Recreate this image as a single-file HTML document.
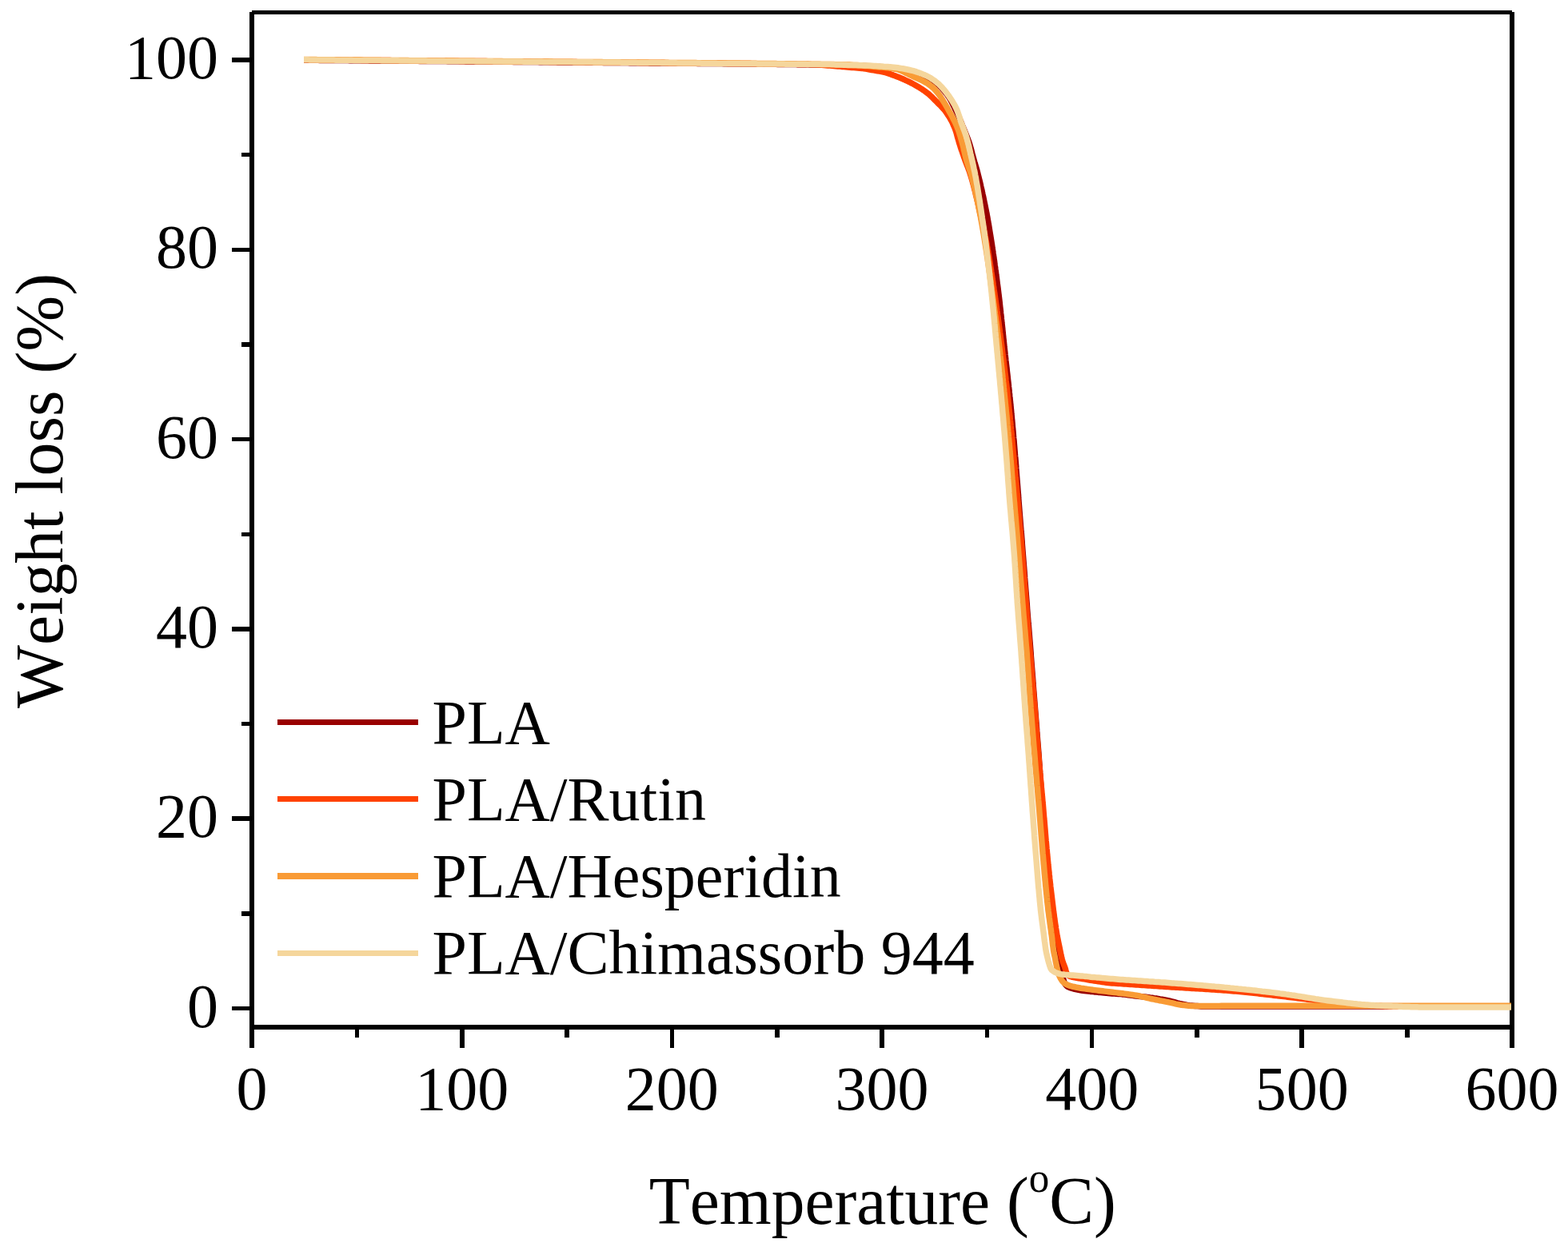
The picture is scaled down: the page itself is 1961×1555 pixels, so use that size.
<!DOCTYPE html>
<html lang="en"><head><meta charset="utf-8"><title>TGA curves: PLA weight loss vs temperature</title>
<style>html,body{margin:0;padding:0;background:#fff;}body{width:1961px;height:1555px;overflow:hidden;}svg{display:block;}text{font-family:"Liberation Serif","DejaVu Serif",serif;fill:#000;font-kerning:none;}</style>
</head><body>
<svg width="1961" height="1555" viewBox="0 0 1961 1555">
<rect width="1961" height="1555" fill="#fff"/>
<g id="axes" shape-rendering="crispEdges">
<rect x="312" y="15" width="6" height="1296" fill="#000"/>
<rect x="1888" y="15" width="6" height="1296" fill="#000"/>
<rect x="315" y="13" width="1576" height="5" fill="#000"/>
<rect x="312" y="1282" width="1582" height="6" fill="#000"/>
<rect x="444" y="1285" width="5" height="13" fill="#000"/>
<rect x="575" y="1285" width="6" height="26" fill="#000"/>
<rect x="706" y="1285" width="6" height="13" fill="#000"/>
<rect x="838" y="1285" width="5" height="26" fill="#000"/>
<rect x="969" y="1285" width="6" height="13" fill="#000"/>
<rect x="1100" y="1285" width="6" height="26" fill="#000"/>
<rect x="1232" y="1285" width="5" height="13" fill="#000"/>
<rect x="1363" y="1285" width="5" height="26" fill="#000"/>
<rect x="1494" y="1285" width="6" height="13" fill="#000"/>
<rect x="1625" y="1285" width="6" height="26" fill="#000"/>
<rect x="1757" y="1285" width="6" height="13" fill="#000"/>
<rect x="290" y="72" width="25" height="6" fill="#000"/>
<rect x="302" y="191" width="13" height="5" fill="#000"/>
<rect x="290" y="310" width="25" height="5" fill="#000"/>
<rect x="302" y="428" width="13" height="6" fill="#000"/>
<rect x="290" y="547" width="25" height="5" fill="#000"/>
<rect x="302" y="666" width="13" height="5" fill="#000"/>
<rect x="290" y="784" width="25" height="6" fill="#000"/>
<rect x="302" y="903" width="13" height="5" fill="#000"/>
<rect x="290" y="1021" width="25" height="6" fill="#000"/>
<rect x="302" y="1140" width="13" height="6" fill="#000"/>
<rect x="290" y="1259" width="25" height="5" fill="#000"/>
</g>
<g id="xticklabels" font-size="78" text-anchor="middle">
<text x="315.00" y="1387.5">0</text>
<text x="577.67" y="1387.5">100</text>
<text x="840.33" y="1387.5">200</text>
<text x="1103.00" y="1387.5">300</text>
<text x="1365.67" y="1387.5">400</text>
<text x="1628.33" y="1387.5">500</text>
<text x="1891.00" y="1387.5">600</text>
</g>
<g id="yticklabels" font-size="78" text-anchor="end">
<text x="273" y="98.00">100</text>
<text x="273" y="335.30">80</text>
<text x="273" y="572.60">60</text>
<text x="273" y="809.90">40</text>
<text x="273" y="1047.20">20</text>
<text x="273" y="1284.50">0</text>
</g>
<text id="xtitle" transform="translate(1103.8 1531) scale(0.982 1)" font-size="85" text-anchor="middle">Temperature (<tspan font-size="52" dy="-40.5">o</tspan><tspan dy="40.5">C)</tspan></text>
<text id="ytitle" transform="translate(77.5 614) rotate(-90) scale(0.985 1)" font-size="85" text-anchor="middle">Weight loss (%)</text>
<defs><clipPath id="plot"><rect x="315" y="15" width="1575" height="1270"/></clipPath></defs>
<g id="curves" clip-path="url(#plot)" fill="none" stroke-width="7.5" stroke-linejoin="round" stroke-linecap="butt">
<path d="M380.0 75.2 L382.5 75.2 L385.0 75.2 L387.5 75.3 L390.0 75.3 L392.5 75.3 L395.0 75.3 L397.5 75.3 L400.0 75.4 L402.5 75.4 L405.0 75.4 L407.5 75.4 L410.0 75.4 L412.5 75.5 L415.0 75.5 L417.5 75.5 L420.0 75.5 L422.5 75.5 L425.0 75.6 L427.5 75.6 L430.0 75.6 L432.5 75.6 L435.0 75.6 L437.5 75.7 L440.0 75.7 L442.5 75.7 L445.0 75.7 L447.5 75.7 L450.0 75.8 L452.5 75.8 L455.0 75.8 L457.5 75.8 L460.0 75.8 L462.5 75.9 L465.0 75.9 L467.5 75.9 L470.0 75.9 L472.5 75.9 L475.0 76.0 L477.5 76.0 L480.0 76.0 L482.5 76.0 L485.0 76.0 L487.5 76.1 L490.0 76.1 L492.5 76.1 L495.0 76.1 L497.5 76.1 L500.0 76.2 L502.5 76.2 L505.0 76.2 L507.6 76.2 L510.1 76.2 L512.6 76.3 L515.1 76.3 L517.6 76.3 L520.1 76.3 L522.6 76.3 L525.1 76.4 L527.6 76.4 L530.1 76.4 L532.6 76.4 L535.1 76.5 L537.6 76.5 L540.1 76.5 L542.6 76.5 L545.1 76.5 L547.6 76.6 L550.1 76.6 L552.6 76.6 L555.1 76.6 L557.6 76.6 L560.1 76.7 L562.6 76.7 L565.1 76.7 L567.6 76.7 L570.1 76.7 L572.6 76.8 L575.1 76.8 L577.6 76.8 L580.1 76.8 L582.6 76.9 L585.1 76.9 L587.6 76.9 L590.1 76.9 L592.6 76.9 L595.1 77.0 L597.6 77.0 L600.1 77.0 L602.6 77.0 L605.1 77.0 L607.6 77.1 L610.1 77.1 L612.6 77.1 L615.1 77.1 L617.6 77.2 L620.1 77.2 L622.6 77.2 L625.1 77.2 L627.6 77.2 L630.1 77.3 L632.6 77.3 L635.1 77.3 L637.6 77.3 L640.1 77.3 L642.6 77.4 L645.1 77.4 L647.6 77.4 L650.1 77.4 L652.6 77.5 L655.1 77.5 L657.6 77.5 L660.1 77.5 L662.6 77.5 L665.1 77.6 L667.6 77.6 L670.1 77.6 L672.6 77.6 L675.1 77.7 L677.6 77.7 L680.1 77.7 L682.6 77.7 L685.1 77.7 L687.6 77.8 L690.1 77.8 L692.6 77.8 L695.1 77.8 L697.6 77.9 L700.1 77.9 L702.6 77.9 L705.1 77.9 L707.6 77.9 L710.1 78.0 L712.6 78.0 L715.1 78.0 L717.6 78.0 L720.1 78.1 L722.6 78.1 L725.1 78.1 L727.6 78.1 L730.1 78.1 L732.6 78.2 L735.1 78.2 L737.6 78.2 L740.1 78.2 L742.6 78.3 L745.1 78.3 L747.6 78.3 L750.1 78.3 L752.6 78.3 L755.1 78.4 L757.6 78.4 L760.1 78.4 L762.6 78.4 L765.2 78.5 L767.7 78.5 L770.2 78.5 L772.7 78.5 L775.2 78.5 L777.7 78.6 L780.2 78.6 L782.7 78.6 L785.2 78.6 L787.7 78.7 L790.2 78.7 L792.7 78.7 L795.2 78.7 L797.7 78.7 L800.2 78.8 L802.7 78.8 L805.2 78.8 L807.7 78.8 L810.2 78.8 L812.7 78.9 L815.2 78.9 L817.7 78.9 L820.2 78.9 L822.7 79.0 L825.2 79.0 L827.7 79.0 L830.2 79.0 L832.7 79.0 L835.2 79.1 L837.7 79.1 L840.2 79.1 L842.7 79.1 L845.2 79.1 L847.7 79.2 L850.2 79.2 L852.7 79.2 L855.2 79.2 L857.7 79.2 L860.2 79.3 L862.7 79.3 L865.2 79.3 L867.7 79.3 L870.2 79.3 L872.7 79.4 L875.2 79.4 L877.7 79.4 L880.2 79.4 L882.7 79.5 L885.2 79.5 L887.7 79.5 L890.2 79.5 L892.7 79.5 L895.2 79.6 L897.7 79.6 L900.2 79.6 L902.7 79.6 L905.2 79.7 L907.7 79.7 L910.2 79.7 L912.7 79.7 L915.2 79.8 L917.7 79.8 L920.2 79.8 L922.7 79.8 L925.2 79.8 L927.7 79.9 L930.2 79.9 L932.7 79.9 L935.2 79.9 L937.7 80.0 L940.2 80.0 L942.7 80.0 L945.2 80.1 L947.7 80.1 L950.2 80.1 L952.7 80.1 L955.2 80.2 L957.7 80.2 L960.2 80.2 L962.7 80.2 L965.2 80.3 L967.7 80.3 L970.2 80.3 L972.7 80.4 L975.2 80.4 L977.7 80.4 L980.2 80.4 L982.7 80.5 L985.2 80.5 L987.7 80.5 L990.2 80.6 L992.7 80.6 L995.2 80.6 L997.7 80.7 L1000.2 80.7 L1002.7 80.7 L1005.2 80.8 L1007.7 80.8 L1010.2 80.8 L1012.7 80.9 L1015.2 80.9 L1017.7 80.9 L1020.2 81.0 L1022.7 81.0 L1025.2 81.1 L1027.8 81.1 L1030.3 81.1 L1032.8 81.2 L1035.3 81.2 L1037.8 81.3 L1040.3 81.3 L1042.8 81.4 L1045.3 81.4 L1047.8 81.5 L1050.3 81.5 L1052.8 81.6 L1055.3 81.7 L1057.8 81.7 L1060.3 81.8 L1062.8 81.8 L1065.3 81.9 L1067.8 82.0 L1070.3 82.1 L1072.8 82.2 L1075.3 82.3 L1077.8 82.4 L1080.3 82.5 L1082.8 82.6 L1085.3 82.7 L1087.8 82.8 L1090.2 83.0 L1092.7 83.1 L1095.2 83.2 L1097.7 83.4 L1100.2 83.5 L1102.7 83.7 L1105.2 83.8 L1107.7 84.0 L1110.2 84.2 L1112.7 84.4 L1115.2 84.7 L1117.7 84.9 L1120.2 85.2 L1122.6 85.5 L1125.1 85.9 L1127.6 86.3 L1130.1 86.8 L1132.5 87.3 L1135.0 87.8 L1137.4 88.4 L1139.8 89.0 L1142.2 89.6 L1144.6 90.3 L1147.0 91.2 L1149.3 92.0 L1151.7 93.0 L1154.0 94.0 L1156.3 95.0 L1158.5 96.1 L1160.8 97.2 L1163.0 98.4 L1165.2 99.6 L1167.3 101.0 L1169.3 102.5 L1171.2 104.0 L1173.1 105.6 L1174.9 107.3 L1176.7 109.1 L1178.4 111.0 L1180.1 112.9 L1181.7 114.8 L1183.3 116.8 L1184.8 118.8 L1186.2 120.8 L1187.5 122.9 L1188.8 125.0 L1190.0 127.2 L1191.2 129.5 L1192.3 131.7 L1193.4 134.0 L1194.5 136.3 L1195.6 138.5 L1196.7 140.8 L1197.7 143.1 L1198.7 145.3 L1199.7 147.6 L1200.7 149.9 L1201.7 152.2 L1202.6 154.6 L1203.5 156.9 L1204.5 159.2 L1205.4 161.5 L1206.4 163.8 L1207.3 166.2 L1208.3 168.5 L1209.2 170.8 L1210.1 173.1 L1211.0 175.5 L1211.8 177.8 L1212.6 180.2 L1213.3 182.6 L1214.0 185.0 L1214.7 187.4 L1215.3 189.8 L1215.9 192.2 L1216.6 194.7 L1217.2 197.1 L1217.9 199.5 L1218.5 201.9 L1219.2 204.3 L1220.0 206.7 L1220.7 209.1 L1221.4 211.5 L1222.0 213.9 L1222.7 216.3 L1223.3 218.8 L1223.9 221.2 L1224.5 223.6 L1225.1 226.0 L1225.7 228.5 L1226.3 230.9 L1226.8 233.3 L1227.4 235.8 L1228.0 238.2 L1228.5 240.7 L1229.0 243.1 L1229.6 245.6 L1230.1 248.0 L1230.6 250.4 L1231.1 252.9 L1231.6 255.3 L1232.1 257.8 L1232.6 260.3 L1233.1 262.7 L1233.6 265.2 L1234.0 267.6 L1234.5 270.1 L1235.0 272.5 L1235.4 275.0 L1235.8 277.5 L1236.3 279.9 L1236.7 282.4 L1237.1 284.8 L1237.5 287.3 L1237.9 289.8 L1238.3 292.3 L1238.7 294.7 L1239.1 297.2 L1239.5 299.7 L1239.9 302.1 L1240.3 304.6 L1240.7 307.1 L1241.0 309.6 L1241.4 312.0 L1241.8 314.5 L1242.1 317.0 L1242.5 319.5 L1242.8 321.9 L1243.2 324.4 L1243.6 326.9 L1243.9 329.4 L1244.2 331.8 L1244.6 334.3 L1244.9 336.8 L1245.3 339.3 L1245.6 341.7 L1245.9 344.2 L1246.3 346.7 L1246.6 349.2 L1246.9 351.7 L1247.2 354.1 L1247.5 356.6 L1247.9 359.1 L1248.2 361.6 L1248.5 364.1 L1248.8 366.6 L1249.1 369.0 L1249.4 371.5 L1249.7 374.0 L1250.0 376.5 L1250.3 379.0 L1250.5 381.5 L1250.8 383.9 L1251.1 386.4 L1251.4 388.9 L1251.6 391.4 L1251.9 393.9 L1252.2 396.4 L1252.4 398.9 L1252.7 401.4 L1252.9 403.8 L1253.2 406.3 L1253.5 408.8 L1253.7 411.3 L1254.0 413.8 L1254.2 416.3 L1254.5 418.8 L1254.7 421.3 L1255.0 423.7 L1255.3 426.2 L1255.5 428.7 L1255.8 431.2 L1256.0 433.7 L1256.3 436.2 L1256.6 438.7 L1256.9 441.2 L1257.1 443.6 L1257.4 446.1 L1257.7 448.6 L1257.9 451.1 L1258.2 453.6 L1258.5 456.1 L1258.8 458.6 L1259.1 461.0 L1259.3 463.5 L1259.6 466.0 L1259.9 468.5 L1260.2 471.0 L1260.4 473.5 L1260.7 476.0 L1261.0 478.4 L1261.3 480.9 L1261.5 483.4 L1261.8 485.9 L1262.1 488.4 L1262.3 490.9 L1262.6 493.4 L1262.8 495.9 L1263.1 498.3 L1263.3 500.8 L1263.6 503.3 L1263.8 505.8 L1264.1 508.3 L1264.3 510.8 L1264.6 513.3 L1264.8 515.8 L1265.0 518.3 L1265.3 520.7 L1265.5 523.2 L1265.7 525.7 L1266.0 528.2 L1266.2 530.7 L1266.4 533.2 L1266.6 535.7 L1266.9 538.2 L1267.1 540.7 L1267.3 543.2 L1267.5 545.7 L1267.7 548.1 L1268.0 550.6 L1268.2 553.1 L1268.4 555.6 L1268.6 558.1 L1268.8 560.6 L1269.0 563.1 L1269.2 565.6 L1269.4 568.1 L1269.6 570.6 L1269.9 573.1 L1270.1 575.6 L1270.3 578.1 L1270.5 580.5 L1270.7 583.0 L1270.8 585.5 L1271.0 588.0 L1271.2 590.5 L1271.4 593.0 L1271.6 595.5 L1271.8 598.0 L1272.0 600.5 L1272.2 603.0 L1272.4 605.5 L1272.6 608.0 L1272.8 610.5 L1273.0 613.0 L1273.2 615.5 L1273.4 617.9 L1273.6 620.4 L1273.7 622.9 L1273.9 625.4 L1274.1 627.9 L1274.3 630.4 L1274.5 632.9 L1274.7 635.4 L1274.9 637.9 L1275.1 640.4 L1275.3 642.9 L1275.5 645.4 L1275.7 647.9 L1275.9 650.4 L1276.1 652.9 L1276.3 655.3 L1276.5 657.8 L1276.7 660.3 L1276.9 662.8 L1277.1 665.3 L1277.4 667.8 L1277.6 670.3 L1277.8 672.8 L1278.0 675.3 L1278.2 677.8 L1278.3 680.3 L1278.5 682.8 L1278.7 685.3 L1278.9 687.8 L1279.1 690.2 L1279.3 692.7 L1279.5 695.2 L1279.7 697.7 L1279.9 700.2 L1280.1 702.7 L1280.3 705.2 L1280.5 707.7 L1280.7 710.2 L1280.9 712.7 L1281.1 715.2 L1281.3 717.7 L1281.5 720.2 L1281.6 722.7 L1281.8 725.2 L1282.0 727.7 L1282.2 730.1 L1282.4 732.6 L1282.6 735.1 L1282.8 737.6 L1283.0 740.1 L1283.2 742.6 L1283.4 745.1 L1283.6 747.6 L1283.8 750.1 L1284.0 752.6 L1284.2 755.1 L1284.4 757.6 L1284.5 760.1 L1284.7 762.6 L1284.9 765.1 L1285.1 767.5 L1285.3 770.0 L1285.5 772.5 L1285.7 775.0 L1285.9 777.5 L1286.1 780.0 L1286.4 782.5 L1286.6 785.0 L1286.8 787.5 L1287.0 790.0 L1287.2 792.5 L1287.4 795.0 L1287.6 797.5 L1287.8 800.0 L1288.0 802.4 L1288.2 804.9 L1288.4 807.4 L1288.6 809.9 L1288.8 812.4 L1289.0 814.9 L1289.2 817.4 L1289.3 819.9 L1289.5 822.4 L1289.7 824.9 L1289.9 827.4 L1290.1 829.9 L1290.3 832.4 L1290.5 834.9 L1290.7 837.4 L1290.9 839.8 L1291.1 842.3 L1291.3 844.8 L1291.5 847.3 L1291.7 849.8 L1291.9 852.3 L1292.0 854.8 L1292.2 857.3 L1292.4 859.8 L1292.6 862.3 L1292.8 864.8 L1293.0 867.3 L1293.2 869.8 L1293.4 872.3 L1293.6 874.8 L1293.8 877.3 L1294.0 879.7 L1294.2 882.2 L1294.4 884.7 L1294.6 887.2 L1294.8 889.7 L1295.0 892.2 L1295.2 894.7 L1295.4 897.2 L1295.6 899.7 L1295.8 902.2 L1296.0 904.7 L1296.2 907.2 L1296.4 909.7 L1296.6 912.2 L1296.7 914.7 L1296.9 917.1 L1297.1 919.6 L1297.3 922.1 L1297.5 924.6 L1297.7 927.1 L1297.9 929.6 L1298.1 932.1 L1298.3 934.6 L1298.5 937.1 L1298.7 939.6 L1298.9 942.1 L1299.1 944.6 L1299.3 947.1 L1299.4 949.6 L1299.6 952.1 L1299.8 954.6 L1300.0 957.0 L1300.1 959.5 L1300.3 962.0 L1300.5 964.5 L1300.6 967.0 L1300.8 969.5 L1301.0 972.0 L1301.2 974.5 L1301.3 977.0 L1301.5 979.5 L1301.7 982.0 L1301.8 984.5 L1302.0 987.0 L1302.2 989.5 L1302.3 992.0 L1302.5 994.5 L1302.7 997.0 L1302.9 999.5 L1303.0 1002.0 L1303.2 1004.5 L1303.4 1007.0 L1303.6 1009.4 L1303.8 1011.9 L1303.9 1014.4 L1304.1 1016.9 L1304.3 1019.4 L1304.5 1021.9 L1304.7 1024.4 L1304.9 1026.9 L1305.1 1029.4 L1305.3 1031.9 L1305.5 1034.4 L1305.6 1036.9 L1305.8 1039.4 L1306.0 1041.9 L1306.2 1044.4 L1306.4 1046.9 L1306.6 1049.3 L1306.8 1051.8 L1307.0 1054.3 L1307.2 1056.8 L1307.4 1059.3 L1307.6 1061.8 L1307.8 1064.3 L1308.1 1066.8 L1308.3 1069.3 L1308.5 1071.8 L1308.7 1074.3 L1308.9 1076.8 L1309.1 1079.3 L1309.3 1081.8 L1309.5 1084.2 L1309.8 1086.7 L1310.0 1089.2 L1310.2 1091.7 L1310.4 1094.2 L1310.6 1096.7 L1310.8 1099.2 L1311.1 1101.7 L1311.3 1104.2 L1311.5 1106.7 L1311.8 1109.2 L1312.0 1111.7 L1312.2 1114.1 L1312.5 1116.6 L1312.7 1119.1 L1313.0 1121.6 L1313.2 1124.1 L1313.5 1126.6 L1313.8 1129.1 L1314.1 1131.6 L1314.3 1134.0 L1314.6 1136.5 L1314.9 1139.0 L1315.3 1141.5 L1315.6 1144.0 L1315.9 1146.4 L1316.3 1148.9 L1316.7 1151.4 L1317.0 1153.9 L1317.4 1156.3 L1317.8 1158.8 L1318.2 1161.3 L1318.5 1163.7 L1318.9 1166.2 L1319.3 1168.7 L1319.7 1171.2 L1320.0 1173.6 L1320.4 1176.1 L1320.8 1178.6 L1321.2 1181.1 L1321.5 1183.5 L1321.9 1186.0 L1322.3 1188.5 L1322.7 1191.0 L1323.1 1193.4 L1323.5 1195.9 L1324.0 1198.3 L1324.4 1200.8 L1324.9 1203.2 L1325.5 1205.7 L1326.0 1208.1 L1326.6 1210.6 L1327.1 1213.0 L1327.6 1215.5 L1328.1 1217.9 L1328.6 1220.4 L1329.2 1222.8 L1329.9 1225.3 L1330.6 1227.7 L1331.5 1230.0 L1332.8 1232.1 L1334.6 1233.9 L1336.7 1235.1 L1339.1 1236.0 L1341.5 1236.7 L1343.9 1237.3 L1346.4 1237.8 L1348.8 1238.3 L1351.3 1238.8 L1353.8 1239.2 L1356.2 1239.5 L1358.7 1239.8 L1361.2 1240.1 L1363.7 1240.4 L1366.2 1240.6 L1368.7 1240.9 L1371.2 1241.1 L1373.7 1241.4 L1376.2 1241.6 L1378.6 1241.8 L1381.1 1242.1 L1383.6 1242.3 L1386.1 1242.5 L1388.6 1242.7 L1391.1 1242.9 L1393.6 1243.0 L1396.1 1243.2 L1398.6 1243.4 L1401.1 1243.6 L1403.6 1243.9 L1406.1 1244.1 L1408.5 1244.4 L1411.0 1244.8 L1413.5 1245.1 L1416.0 1245.4 L1418.5 1245.7 L1420.9 1246.0 L1423.4 1246.3 L1425.9 1246.6 L1428.4 1246.8 L1430.9 1247.1 L1433.4 1247.3 L1435.9 1247.6 L1438.3 1248.0 L1440.8 1248.3 L1443.3 1248.7 L1445.8 1249.0 L1448.2 1249.4 L1450.7 1249.9 L1453.2 1250.3 L1455.6 1250.7 L1458.1 1251.2 L1460.5 1251.7 L1463.0 1252.2 L1465.4 1252.8 L1467.8 1253.4 L1470.3 1254.1 L1472.7 1254.8 L1475.1 1255.4 L1477.5 1255.9 L1480.0 1256.4 L1482.4 1256.9 L1484.9 1257.4 L1487.4 1257.8 L1489.9 1258.1 L1492.3 1258.3 L1494.8 1258.5 L1497.3 1258.6 L1499.8 1258.7 L1502.3 1258.9 L1504.8 1258.9 L1507.3 1259.0 L1509.8 1259.0 L1512.3 1259.0 L1514.8 1259.0 L1517.3 1259.0 L1519.8 1259.0 L1522.3 1259.0 L1524.8 1259.0 L1527.3 1259.0 L1529.8 1259.0 L1532.3 1259.0 L1534.8 1259.0 L1537.3 1259.0 L1539.8 1259.0 L1542.3 1259.0 L1544.8 1259.0 L1547.3 1259.0 L1549.8 1259.0 L1552.3 1259.0 L1554.8 1259.0 L1557.3 1259.0 L1559.8 1259.0 L1562.3 1259.0 L1564.8 1259.0 L1567.3 1259.0 L1569.8 1259.0 L1572.3 1259.0 L1574.8 1259.0 L1577.3 1259.0 L1579.8 1259.0 L1582.3 1259.0 L1584.8 1259.0 L1587.3 1259.0 L1589.8 1259.0 L1592.3 1259.0 L1594.8 1259.0 L1597.3 1259.0 L1599.8 1259.0 L1602.3 1259.0 L1604.8 1259.0 L1607.3 1259.0 L1609.8 1259.0 L1612.3 1259.0 L1614.8 1259.0 L1617.3 1259.0 L1619.8 1259.0 L1622.3 1259.0 L1624.8 1259.0 L1627.3 1259.0 L1629.8 1259.0 L1632.3 1259.0 L1634.8 1259.0 L1637.3 1259.0 L1639.8 1259.0 L1642.3 1259.0 L1644.8 1259.0 L1647.3 1259.0 L1649.8 1259.0 L1652.3 1259.0 L1654.8 1259.0 L1657.3 1259.0 L1659.8 1259.0 L1662.3 1259.0 L1664.8 1259.0 L1667.3 1259.0 L1669.9 1259.0 L1672.4 1259.0 L1674.9 1259.0 L1677.4 1259.0 L1679.9 1259.0 L1682.4 1259.0 L1684.9 1259.0 L1687.4 1259.0 L1689.9 1259.0 L1692.4 1259.0 L1694.9 1259.0 L1697.4 1259.0 L1699.9 1259.0 L1702.4 1259.0 L1704.9 1259.0 L1707.4 1259.0 L1709.9 1259.0 L1712.4 1259.0 L1714.9 1259.0 L1717.4 1259.0 L1719.9 1259.0 L1722.4 1259.0 L1724.9 1259.0 L1727.4 1259.0 L1729.9 1259.0 L1732.4 1259.0 L1734.9 1259.0 L1737.4 1259.0 L1739.9 1259.0 L1742.4 1259.0 L1744.9 1259.0 L1747.4 1259.0 L1749.9 1259.0 L1752.4 1259.0 L1754.9 1258.9 L1757.4 1258.9 L1759.9 1258.9 L1762.4 1258.9 L1764.9 1258.9 L1767.4 1258.9 L1769.9 1258.9 L1772.4 1258.9 L1774.9 1258.9 L1777.4 1258.9 L1779.9 1258.9 L1782.4 1258.9 L1784.9 1258.9 L1787.4 1258.9 L1789.9 1258.9 L1792.4 1258.9 L1794.9 1258.9 L1797.4 1258.9 L1799.9 1258.9 L1802.4 1258.9 L1804.9 1258.9 L1807.4 1258.9 L1809.9 1258.9 L1812.4 1258.9 L1814.9 1258.9 L1817.4 1258.9 L1819.9 1258.9 L1822.4 1258.9 L1824.9 1258.9 L1827.4 1258.9 L1829.9 1258.9 L1832.4 1258.9 L1834.9 1258.9 L1837.4 1258.9 L1839.9 1258.9 L1842.4 1258.9 L1844.9 1258.9 L1847.5 1258.9 L1850.0 1258.9 L1852.5 1258.9 L1855.0 1258.9 L1857.5 1258.9 L1860.0 1258.8 L1862.5 1258.8 L1865.0 1258.8 L1867.5 1258.8 L1870.0 1258.8 L1872.5 1258.8 L1875.0 1258.8 L1877.5 1258.8 L1880.0 1258.8 L1882.5 1258.8 L1885.0 1258.8 L1887.5 1258.8 L1890.0 1258.8 L1892.5 1258.8 L1895.0 1258.8" stroke="#990000"/>
<path d="M380.0 74.8 L382.5 74.8 L385.0 74.8 L387.5 74.9 L390.0 74.9 L392.5 74.9 L395.0 74.9 L397.5 74.9 L400.0 75.0 L402.5 75.0 L405.0 75.0 L407.5 75.0 L410.0 75.0 L412.5 75.0 L415.0 75.1 L417.5 75.1 L420.0 75.1 L422.5 75.1 L425.0 75.1 L427.5 75.2 L430.0 75.2 L432.5 75.2 L435.0 75.2 L437.5 75.2 L440.0 75.3 L442.5 75.3 L445.0 75.3 L447.5 75.3 L450.0 75.3 L452.5 75.4 L455.1 75.4 L457.6 75.4 L460.1 75.4 L462.6 75.4 L465.1 75.5 L467.6 75.5 L470.1 75.5 L472.6 75.5 L475.1 75.5 L477.6 75.6 L480.1 75.6 L482.6 75.6 L485.1 75.6 L487.6 75.6 L490.1 75.7 L492.6 75.7 L495.1 75.7 L497.6 75.7 L500.1 75.7 L502.6 75.8 L505.1 75.8 L507.6 75.8 L510.1 75.8 L512.6 75.8 L515.1 75.9 L517.6 75.9 L520.1 75.9 L522.6 75.9 L525.1 75.9 L527.6 76.0 L530.1 76.0 L532.6 76.0 L535.1 76.0 L537.6 76.1 L540.1 76.1 L542.6 76.1 L545.1 76.1 L547.6 76.1 L550.1 76.2 L552.6 76.2 L555.1 76.2 L557.6 76.2 L560.1 76.2 L562.6 76.3 L565.1 76.3 L567.6 76.3 L570.1 76.3 L572.6 76.3 L575.1 76.4 L577.6 76.4 L580.1 76.4 L582.6 76.4 L585.1 76.5 L587.6 76.5 L590.1 76.5 L592.6 76.5 L595.1 76.5 L597.6 76.6 L600.1 76.6 L602.7 76.6 L605.2 76.6 L607.7 76.6 L610.2 76.7 L612.7 76.7 L615.2 76.7 L617.7 76.7 L620.2 76.8 L622.7 76.8 L625.2 76.8 L627.7 76.8 L630.2 76.8 L632.7 76.9 L635.2 76.9 L637.7 76.9 L640.2 76.9 L642.7 77.0 L645.2 77.0 L647.7 77.0 L650.2 77.0 L652.7 77.0 L655.2 77.1 L657.7 77.1 L660.2 77.1 L662.7 77.1 L665.2 77.2 L667.7 77.2 L670.2 77.2 L672.7 77.2 L675.2 77.2 L677.7 77.3 L680.2 77.3 L682.7 77.3 L685.2 77.3 L687.7 77.4 L690.2 77.4 L692.7 77.4 L695.2 77.4 L697.7 77.4 L700.2 77.5 L702.7 77.5 L705.2 77.5 L707.7 77.5 L710.2 77.6 L712.7 77.6 L715.2 77.6 L717.7 77.6 L720.2 77.6 L722.7 77.7 L725.2 77.7 L727.7 77.7 L730.2 77.7 L732.7 77.8 L735.2 77.8 L737.7 77.8 L740.2 77.8 L742.7 77.8 L745.2 77.9 L747.7 77.9 L750.2 77.9 L752.8 77.9 L755.3 78.0 L757.8 78.0 L760.3 78.0 L762.8 78.0 L765.3 78.1 L767.8 78.1 L770.3 78.1 L772.8 78.1 L775.3 78.1 L777.8 78.2 L780.3 78.2 L782.8 78.2 L785.3 78.2 L787.8 78.3 L790.3 78.3 L792.8 78.3 L795.3 78.3 L797.8 78.3 L800.3 78.4 L802.8 78.4 L805.3 78.4 L807.8 78.4 L810.3 78.5 L812.8 78.5 L815.3 78.5 L817.8 78.5 L820.3 78.5 L822.8 78.6 L825.3 78.6 L827.8 78.6 L830.3 78.6 L832.8 78.7 L835.3 78.7 L837.8 78.7 L840.3 78.7 L842.8 78.7 L845.3 78.8 L847.8 78.8 L850.3 78.8 L852.8 78.8 L855.3 78.9 L857.8 78.9 L860.3 78.9 L862.8 78.9 L865.3 78.9 L867.8 79.0 L870.3 79.0 L872.8 79.0 L875.3 79.0 L877.8 79.1 L880.3 79.1 L882.8 79.1 L885.3 79.1 L887.8 79.1 L890.3 79.2 L892.8 79.2 L895.3 79.2 L897.8 79.2 L900.3 79.3 L902.9 79.3 L905.4 79.3 L907.9 79.3 L910.4 79.4 L912.9 79.4 L915.4 79.4 L917.9 79.4 L920.4 79.5 L922.9 79.5 L925.4 79.5 L927.9 79.5 L930.4 79.6 L932.9 79.6 L935.4 79.6 L937.9 79.6 L940.4 79.7 L942.9 79.7 L945.4 79.7 L947.9 79.8 L950.4 79.8 L952.9 79.8 L955.4 79.8 L957.9 79.9 L960.4 79.9 L962.9 79.9 L965.4 80.0 L967.9 80.0 L970.4 80.0 L972.9 80.0 L975.4 80.1 L977.9 80.1 L980.4 80.1 L982.9 80.2 L985.4 80.2 L987.9 80.2 L990.4 80.3 L992.9 80.3 L995.4 80.3 L997.9 80.4 L1000.4 80.4 L1002.9 80.4 L1005.4 80.5 L1007.9 80.5 L1010.4 80.6 L1012.9 80.6 L1015.4 80.7 L1017.9 80.7 L1020.4 80.8 L1022.9 81.0 L1025.4 81.1 L1027.9 81.3 L1030.4 81.5 L1032.9 81.7 L1035.4 81.9 L1037.9 82.1 L1040.4 82.3 L1042.9 82.5 L1045.4 82.7 L1047.9 82.9 L1050.4 83.1 L1052.8 83.4 L1055.3 83.6 L1057.8 83.8 L1060.3 84.0 L1062.8 84.2 L1065.3 84.4 L1067.8 84.6 L1070.3 84.8 L1072.8 85.0 L1075.3 85.2 L1077.8 85.4 L1080.3 85.7 L1082.7 86.1 L1085.2 86.5 L1087.7 87.0 L1090.1 87.5 L1092.6 87.9 L1095.0 88.3 L1097.5 88.7 L1100.0 89.1 L1102.5 89.6 L1104.9 90.1 L1107.3 90.7 L1109.7 91.4 L1112.1 92.2 L1114.5 93.1 L1116.8 93.9 L1119.2 94.8 L1121.5 95.7 L1123.8 96.6 L1126.1 97.5 L1128.5 98.5 L1130.8 99.5 L1133.0 100.6 L1135.3 101.6 L1137.5 102.7 L1139.8 103.9 L1142.0 105.0 L1144.2 106.2 L1146.4 107.5 L1148.5 108.7 L1150.7 110.1 L1152.8 111.4 L1154.9 112.8 L1156.9 114.2 L1158.9 115.7 L1160.9 117.2 L1162.8 118.8 L1164.6 120.6 L1166.4 122.3 L1168.2 124.1 L1169.9 125.9 L1171.7 127.7 L1173.5 129.5 L1175.3 131.2 L1177.1 133.0 L1178.8 134.9 L1180.4 136.7 L1182.0 138.6 L1183.4 140.6 L1184.8 142.7 L1186.2 144.8 L1187.5 146.9 L1188.8 149.1 L1190.0 151.3 L1191.2 153.6 L1192.2 155.9 L1193.2 158.1 L1194.2 160.4 L1195.0 162.8 L1195.8 165.1 L1196.5 167.5 L1197.1 169.9 L1197.8 172.4 L1198.5 174.8 L1199.2 177.2 L1199.9 179.6 L1200.7 182.0 L1201.4 184.4 L1202.2 186.8 L1203.1 189.1 L1203.9 191.5 L1204.7 193.8 L1205.5 196.2 L1206.4 198.6 L1207.2 200.9 L1208.1 203.3 L1209.0 205.6 L1209.9 207.9 L1210.8 210.3 L1211.7 212.6 L1212.6 215.0 L1213.3 217.3 L1214.1 219.7 L1214.8 222.1 L1215.5 224.5 L1216.2 226.9 L1216.8 229.3 L1217.5 231.7 L1218.1 234.1 L1218.7 236.6 L1219.4 239.0 L1220.0 241.4 L1220.5 243.9 L1221.1 246.3 L1221.7 248.7 L1222.3 251.2 L1222.9 253.6 L1223.4 256.1 L1224.0 258.5 L1224.5 260.9 L1225.1 263.4 L1225.6 265.8 L1226.2 268.3 L1226.8 270.7 L1227.3 273.1 L1227.8 275.6 L1228.4 278.0 L1228.9 280.5 L1229.5 282.9 L1230.0 285.4 L1230.5 287.8 L1231.0 290.3 L1231.5 292.7 L1232.0 295.2 L1232.5 297.6 L1233.0 300.1 L1233.5 302.5 L1234.0 305.0 L1234.4 307.4 L1234.9 309.9 L1235.3 312.4 L1235.8 314.8 L1236.2 317.3 L1236.6 319.7 L1237.0 322.2 L1237.4 324.7 L1237.8 327.1 L1238.2 329.6 L1238.6 332.1 L1239.0 334.6 L1239.4 337.0 L1239.7 339.5 L1240.1 342.0 L1240.5 344.5 L1240.9 346.9 L1241.2 349.4 L1241.6 351.9 L1242.0 354.4 L1242.3 356.8 L1242.7 359.3 L1243.0 361.8 L1243.4 364.3 L1243.7 366.7 L1244.1 369.2 L1244.5 371.7 L1244.8 374.2 L1245.2 376.7 L1245.5 379.1 L1245.9 381.6 L1246.2 384.1 L1246.6 386.6 L1246.9 389.0 L1247.3 391.5 L1247.6 394.0 L1248.0 396.5 L1248.3 399.0 L1248.6 401.4 L1249.0 403.9 L1249.3 406.4 L1249.6 408.9 L1250.0 411.3 L1250.3 413.8 L1250.6 416.3 L1251.0 418.8 L1251.3 421.3 L1251.6 423.8 L1251.9 426.2 L1252.2 428.7 L1252.6 431.2 L1252.9 433.7 L1253.2 436.2 L1253.5 438.6 L1253.8 441.1 L1254.1 443.6 L1254.4 446.1 L1254.7 448.6 L1255.1 451.1 L1255.4 453.5 L1255.7 456.0 L1256.0 458.5 L1256.3 461.0 L1256.6 463.5 L1256.9 466.0 L1257.2 468.4 L1257.5 470.9 L1257.8 473.4 L1258.0 475.9 L1258.3 478.4 L1258.6 480.9 L1258.9 483.3 L1259.2 485.8 L1259.5 488.3 L1259.7 490.8 L1260.0 493.3 L1260.3 495.8 L1260.6 498.3 L1260.8 500.8 L1261.1 503.2 L1261.4 505.7 L1261.6 508.2 L1261.9 510.7 L1262.1 513.2 L1262.4 515.7 L1262.7 518.2 L1262.9 520.7 L1263.2 523.1 L1263.4 525.6 L1263.7 528.1 L1263.9 530.6 L1264.1 533.1 L1264.4 535.6 L1264.6 538.1 L1264.9 540.6 L1265.1 543.1 L1265.3 545.6 L1265.6 548.0 L1265.8 550.5 L1266.1 553.0 L1266.3 555.5 L1266.5 558.0 L1266.8 560.5 L1267.0 563.0 L1267.2 565.5 L1267.5 568.0 L1267.7 570.5 L1267.9 573.0 L1268.2 575.4 L1268.4 577.9 L1268.6 580.4 L1268.9 582.9 L1269.1 585.4 L1269.3 587.9 L1269.6 590.4 L1269.8 592.9 L1270.0 595.4 L1270.3 597.9 L1270.5 600.4 L1270.7 602.8 L1270.9 605.3 L1271.2 607.8 L1271.4 610.3 L1271.6 612.8 L1271.8 615.3 L1272.0 617.8 L1272.3 620.3 L1272.5 622.8 L1272.7 625.3 L1272.9 627.8 L1273.2 630.3 L1273.4 632.8 L1273.6 635.2 L1273.8 637.7 L1274.0 640.2 L1274.2 642.7 L1274.5 645.2 L1274.7 647.7 L1274.9 650.2 L1275.1 652.7 L1275.3 655.2 L1275.5 657.7 L1275.7 660.2 L1275.9 662.7 L1276.2 665.2 L1276.4 667.6 L1276.6 670.1 L1276.8 672.6 L1277.0 675.1 L1277.2 677.6 L1277.4 680.1 L1277.6 682.6 L1277.8 685.1 L1278.0 687.6 L1278.2 690.1 L1278.4 692.6 L1278.6 695.1 L1278.8 697.6 L1279.0 700.1 L1279.2 702.6 L1279.4 705.0 L1279.6 707.5 L1279.8 710.0 L1280.0 712.5 L1280.2 715.0 L1280.4 717.5 L1280.6 720.0 L1280.8 722.5 L1281.0 725.0 L1281.2 727.5 L1281.4 730.0 L1281.6 732.5 L1281.8 735.0 L1282.0 737.5 L1282.2 740.0 L1282.4 742.5 L1282.6 745.0 L1282.8 747.5 L1282.9 749.9 L1283.1 752.4 L1283.3 754.9 L1283.5 757.4 L1283.7 759.9 L1283.9 762.4 L1284.1 764.9 L1284.3 767.4 L1284.5 769.9 L1284.7 772.4 L1284.9 774.9 L1285.1 777.4 L1285.3 779.9 L1285.5 782.4 L1285.7 784.9 L1285.9 787.4 L1286.1 789.8 L1286.3 792.3 L1286.5 794.8 L1286.7 797.3 L1286.9 799.8 L1287.1 802.3 L1287.3 804.8 L1287.5 807.3 L1287.7 809.8 L1287.9 812.3 L1288.1 814.8 L1288.3 817.3 L1288.5 819.8 L1288.8 822.3 L1289.0 824.8 L1289.2 827.2 L1289.4 829.7 L1289.6 832.2 L1289.8 834.7 L1290.0 837.2 L1290.2 839.7 L1290.4 842.2 L1290.6 844.7 L1290.8 847.2 L1291.0 849.7 L1291.3 852.2 L1291.5 854.7 L1291.7 857.2 L1291.9 859.7 L1292.1 862.2 L1292.3 864.6 L1292.5 867.1 L1292.7 869.6 L1292.9 872.1 L1293.1 874.6 L1293.3 877.1 L1293.6 879.6 L1293.8 882.1 L1294.0 884.6 L1294.2 887.1 L1294.4 889.6 L1294.6 892.1 L1294.8 894.6 L1295.0 897.1 L1295.2 899.6 L1295.4 902.0 L1295.5 904.5 L1295.7 907.0 L1295.9 909.5 L1296.1 912.0 L1296.3 914.5 L1296.5 917.0 L1296.7 919.5 L1296.9 922.0 L1297.1 924.5 L1297.3 927.0 L1297.5 929.5 L1297.7 932.0 L1297.9 934.5 L1298.1 937.0 L1298.3 939.5 L1298.5 941.9 L1298.8 944.4 L1299.0 946.9 L1299.2 949.4 L1299.4 951.9 L1299.6 954.4 L1299.8 956.9 L1300.1 959.4 L1300.3 961.9 L1300.5 964.4 L1300.7 966.9 L1301.0 969.4 L1301.2 971.9 L1301.4 974.3 L1301.6 976.8 L1301.9 979.3 L1302.1 981.8 L1302.3 984.3 L1302.5 986.8 L1302.8 989.3 L1303.0 991.8 L1303.2 994.3 L1303.5 996.8 L1303.7 999.3 L1303.9 1001.7 L1304.1 1004.2 L1304.4 1006.7 L1304.6 1009.2 L1304.8 1011.7 L1305.0 1014.2 L1305.2 1016.7 L1305.4 1019.2 L1305.6 1021.7 L1305.8 1024.2 L1306.1 1026.7 L1306.3 1029.2 L1306.5 1031.7 L1306.7 1034.2 L1306.9 1036.6 L1307.1 1039.1 L1307.3 1041.6 L1307.5 1044.1 L1307.7 1046.6 L1307.9 1049.1 L1308.1 1051.6 L1308.4 1054.1 L1308.6 1056.6 L1308.8 1059.1 L1309.0 1061.6 L1309.3 1064.1 L1309.5 1066.6 L1309.7 1069.0 L1310.0 1071.5 L1310.2 1074.0 L1310.4 1076.5 L1310.7 1079.0 L1310.9 1081.5 L1311.2 1084.0 L1311.4 1086.5 L1311.7 1089.0 L1312.0 1091.5 L1312.2 1093.9 L1312.5 1096.4 L1312.7 1098.9 L1313.0 1101.4 L1313.3 1103.9 L1313.6 1106.4 L1313.8 1108.9 L1314.1 1111.4 L1314.4 1113.8 L1314.7 1116.3 L1315.0 1118.8 L1315.3 1121.3 L1315.6 1123.8 L1315.9 1126.3 L1316.2 1128.7 L1316.5 1131.2 L1316.8 1133.7 L1317.1 1136.2 L1317.4 1138.7 L1317.7 1141.2 L1318.1 1143.6 L1318.4 1146.1 L1318.7 1148.6 L1319.1 1151.1 L1319.4 1153.6 L1319.8 1156.0 L1320.2 1158.5 L1320.5 1161.0 L1320.9 1163.4 L1321.3 1165.9 L1321.7 1168.4 L1322.1 1170.8 L1322.6 1173.3 L1323.1 1175.8 L1323.6 1178.2 L1324.1 1180.7 L1324.6 1183.1 L1325.1 1185.6 L1325.6 1188.0 L1326.1 1190.5 L1326.6 1192.9 L1327.1 1195.4 L1327.7 1197.8 L1328.3 1200.2 L1329.0 1202.6 L1329.8 1205.0 L1330.7 1207.3 L1331.6 1209.7 L1332.4 1212.1 L1333.0 1214.5 L1333.7 1216.9 L1334.9 1219.1 L1336.8 1220.7 L1339.1 1221.7 L1341.5 1222.4 L1343.9 1222.9 L1346.4 1223.3 L1348.9 1223.7 L1351.4 1224.1 L1353.8 1224.5 L1356.3 1224.9 L1358.8 1225.3 L1361.2 1225.8 L1363.7 1226.2 L1366.2 1226.6 L1368.6 1227.0 L1371.1 1227.4 L1373.6 1227.8 L1376.1 1228.1 L1378.5 1228.5 L1381.0 1228.9 L1383.5 1229.2 L1386.0 1229.5 L1388.5 1229.7 L1390.9 1230.0 L1393.4 1230.1 L1395.9 1230.3 L1398.4 1230.4 L1400.9 1230.6 L1403.4 1230.7 L1405.9 1230.9 L1408.4 1231.0 L1410.9 1231.2 L1413.4 1231.4 L1415.9 1231.5 L1418.4 1231.7 L1420.9 1231.9 L1423.4 1232.0 L1425.9 1232.2 L1428.4 1232.4 L1430.9 1232.5 L1433.4 1232.7 L1435.9 1232.9 L1438.4 1233.0 L1440.9 1233.2 L1443.4 1233.4 L1445.9 1233.6 L1448.4 1233.7 L1450.9 1233.9 L1453.4 1234.1 L1455.9 1234.2 L1458.4 1234.4 L1460.8 1234.6 L1463.3 1234.7 L1465.8 1234.9 L1468.3 1235.0 L1470.8 1235.2 L1473.3 1235.3 L1475.8 1235.5 L1478.3 1235.6 L1480.8 1235.8 L1483.3 1235.9 L1485.8 1236.1 L1488.3 1236.2 L1490.8 1236.4 L1493.3 1236.5 L1495.8 1236.7 L1498.3 1236.8 L1500.8 1237.0 L1503.3 1237.1 L1505.8 1237.2 L1508.3 1237.4 L1510.8 1237.6 L1513.3 1237.7 L1515.8 1237.9 L1518.3 1238.0 L1520.8 1238.2 L1523.3 1238.4 L1525.8 1238.5 L1528.3 1238.7 L1530.8 1238.9 L1533.3 1239.1 L1535.8 1239.3 L1538.2 1239.5 L1540.7 1239.7 L1543.2 1239.9 L1545.7 1240.1 L1548.2 1240.3 L1550.7 1240.5 L1553.2 1240.8 L1555.7 1241.0 L1558.2 1241.3 L1560.7 1241.5 L1563.1 1241.8 L1565.6 1242.1 L1568.1 1242.3 L1570.6 1242.6 L1573.1 1242.9 L1575.6 1243.2 L1578.1 1243.4 L1580.6 1243.7 L1583.0 1244.0 L1585.5 1244.3 L1588.0 1244.6 L1590.5 1244.9 L1593.0 1245.2 L1595.5 1245.4 L1598.0 1245.7 L1600.4 1246.0 L1602.9 1246.3 L1605.4 1246.6 L1607.9 1246.9 L1610.4 1247.2 L1612.9 1247.5 L1615.4 1247.8 L1617.8 1248.1 L1620.3 1248.4 L1622.8 1248.7 L1625.3 1249.0 L1627.8 1249.3 L1630.3 1249.6 L1632.7 1249.9 L1635.2 1250.2 L1637.7 1250.5 L1640.2 1250.8 L1642.7 1251.0 L1645.2 1251.3 L1647.7 1251.6 L1650.1 1251.9 L1652.6 1252.2 L1655.1 1252.4 L1657.6 1252.7 L1660.1 1253.0 L1662.6 1253.2 L1665.1 1253.5 L1667.5 1253.8 L1670.0 1254.0 L1672.5 1254.3 L1675.0 1254.5 L1677.5 1254.8 L1680.0 1255.0 L1682.5 1255.2 L1685.0 1255.5 L1687.5 1255.7 L1690.0 1256.0 L1692.5 1256.2 L1694.9 1256.4 L1697.4 1256.7 L1699.9 1256.9 L1702.4 1257.1 L1704.9 1257.4 L1707.4 1257.6 L1709.9 1257.7 L1712.4 1257.9 L1714.9 1258.1 L1717.4 1258.2 L1719.9 1258.3 L1722.4 1258.4 L1724.9 1258.5 L1727.4 1258.6 L1729.9 1258.7 L1732.4 1258.8 L1734.9 1258.8 L1737.4 1258.9 L1739.9 1259.0 L1742.4 1259.1 L1744.9 1259.1 L1747.4 1259.2 L1749.9 1259.2 L1752.4 1259.3 L1754.9 1259.3 L1757.4 1259.3 L1759.9 1259.3 L1762.4 1259.3 L1764.9 1259.3 L1767.4 1259.3 L1769.9 1259.3 L1772.4 1259.3 L1774.9 1259.3 L1777.4 1259.3 L1779.9 1259.3 L1782.4 1259.3 L1784.9 1259.3 L1787.4 1259.3 L1789.9 1259.3 L1792.4 1259.3 L1794.9 1259.3 L1797.4 1259.3 L1799.9 1259.3 L1802.4 1259.3 L1804.9 1259.3 L1807.4 1259.3 L1809.9 1259.3 L1812.4 1259.3 L1814.9 1259.3 L1817.4 1259.3 L1819.9 1259.3 L1822.4 1259.3 L1824.9 1259.3 L1827.4 1259.3 L1829.9 1259.3 L1832.4 1259.3 L1835.0 1259.3 L1837.5 1259.3 L1840.0 1259.3 L1842.5 1259.3 L1845.0 1259.3 L1847.5 1259.3 L1850.0 1259.3 L1852.5 1259.3 L1855.0 1259.3 L1857.5 1259.3 L1860.0 1259.3 L1862.5 1259.3 L1865.0 1259.3 L1867.5 1259.3 L1870.0 1259.3 L1872.5 1259.3 L1875.0 1259.3 L1877.5 1259.3 L1880.0 1259.3 L1882.5 1259.3 L1885.0 1259.3 L1887.5 1259.3 L1890.0 1259.3 L1892.5 1259.3 L1895.0 1259.3" stroke="#FF4200"/>
<path d="M380.0 74.5 L382.5 74.5 L385.0 74.5 L387.5 74.6 L390.0 74.6 L392.5 74.6 L395.0 74.6 L397.5 74.7 L400.0 74.7 L402.5 74.7 L405.0 74.7 L407.5 74.7 L410.0 74.8 L412.5 74.8 L415.0 74.8 L417.5 74.8 L420.0 74.9 L422.5 74.9 L425.0 74.9 L427.5 74.9 L430.0 74.9 L432.5 75.0 L435.0 75.0 L437.5 75.0 L440.0 75.0 L442.5 75.1 L445.0 75.1 L447.5 75.1 L450.0 75.1 L452.5 75.1 L455.0 75.2 L457.5 75.2 L460.0 75.2 L462.5 75.2 L465.0 75.3 L467.5 75.3 L470.0 75.3 L472.5 75.3 L475.0 75.3 L477.5 75.4 L480.0 75.4 L482.5 75.4 L485.0 75.4 L487.5 75.4 L490.0 75.5 L492.5 75.5 L495.0 75.5 L497.5 75.5 L500.0 75.6 L502.5 75.6 L505.0 75.6 L507.5 75.6 L510.0 75.6 L512.5 75.7 L515.0 75.7 L517.5 75.7 L520.0 75.7 L522.5 75.8 L525.0 75.8 L527.5 75.8 L530.0 75.8 L532.5 75.8 L535.0 75.9 L537.5 75.9 L540.0 75.9 L542.5 75.9 L545.0 75.9 L547.5 76.0 L550.0 76.0 L552.5 76.0 L555.0 76.0 L557.5 76.1 L560.0 76.1 L562.5 76.1 L565.0 76.1 L567.5 76.1 L570.0 76.2 L572.5 76.2 L575.0 76.2 L577.5 76.2 L580.0 76.2 L582.5 76.3 L585.0 76.3 L587.5 76.3 L590.0 76.3 L592.5 76.3 L595.0 76.4 L597.5 76.4 L600.0 76.4 L602.5 76.4 L605.0 76.4 L607.5 76.5 L610.0 76.5 L612.5 76.5 L615.0 76.5 L617.5 76.6 L620.0 76.6 L622.5 76.6 L625.0 76.6 L627.5 76.6 L630.0 76.7 L632.5 76.7 L635.0 76.7 L637.5 76.7 L640.0 76.7 L642.5 76.8 L645.0 76.8 L647.5 76.8 L650.0 76.8 L652.5 76.8 L655.0 76.9 L657.5 76.9 L660.0 76.9 L662.5 76.9 L665.0 76.9 L667.5 77.0 L670.0 77.0 L672.5 77.0 L675.0 77.0 L677.5 77.0 L680.0 77.1 L682.5 77.1 L685.0 77.1 L687.5 77.1 L690.0 77.1 L692.5 77.2 L695.0 77.2 L697.5 77.2 L700.0 77.2 L702.5 77.2 L705.0 77.3 L707.5 77.3 L710.0 77.3 L712.5 77.3 L715.0 77.3 L717.5 77.4 L720.0 77.4 L722.5 77.4 L725.0 77.4 L727.5 77.4 L730.0 77.5 L732.5 77.5 L735.0 77.5 L737.5 77.5 L740.0 77.5 L742.5 77.6 L745.0 77.6 L747.5 77.6 L750.0 77.6 L752.5 77.6 L755.0 77.7 L757.5 77.7 L760.0 77.7 L762.5 77.7 L765.0 77.8 L767.5 77.8 L770.0 77.8 L772.5 77.8 L775.0 77.8 L777.5 77.9 L780.0 77.9 L782.5 77.9 L785.0 77.9 L787.5 78.0 L790.0 78.0 L792.5 78.0 L795.0 78.0 L797.5 78.0 L800.0 78.1 L802.5 78.1 L805.0 78.1 L807.5 78.1 L810.0 78.1 L812.5 78.2 L815.0 78.2 L817.5 78.2 L820.0 78.2 L822.5 78.2 L825.0 78.3 L827.5 78.3 L830.0 78.3 L832.5 78.3 L835.0 78.3 L837.5 78.4 L840.0 78.4 L842.5 78.4 L845.0 78.4 L847.5 78.5 L850.0 78.5 L852.5 78.5 L855.0 78.5 L857.5 78.5 L860.0 78.6 L862.5 78.6 L865.0 78.6 L867.5 78.6 L870.0 78.6 L872.5 78.7 L875.0 78.7 L877.5 78.7 L880.0 78.7 L882.5 78.8 L885.0 78.8 L887.5 78.8 L890.0 78.8 L892.5 78.8 L895.0 78.9 L897.5 78.9 L900.0 78.9 L902.5 78.9 L905.0 79.0 L907.5 79.0 L910.0 79.0 L912.5 79.0 L915.0 79.0 L917.5 79.1 L920.0 79.1 L922.5 79.1 L925.0 79.1 L927.5 79.2 L930.0 79.2 L932.5 79.2 L935.0 79.2 L937.5 79.3 L940.0 79.3 L942.5 79.3 L945.0 79.3 L947.5 79.4 L950.0 79.4 L952.5 79.4 L955.0 79.5 L957.5 79.5 L960.0 79.5 L962.5 79.5 L965.0 79.6 L967.5 79.6 L970.0 79.6 L972.5 79.7 L975.0 79.7 L977.5 79.7 L980.0 79.7 L982.5 79.8 L985.0 79.8 L987.5 79.8 L990.0 79.9 L992.5 79.9 L995.0 79.9 L997.5 80.0 L1000.0 80.0 L1002.5 80.0 L1005.0 80.1 L1007.5 80.1 L1010.0 80.1 L1012.5 80.2 L1015.0 80.2 L1017.5 80.2 L1020.0 80.3 L1022.5 80.3 L1025.0 80.3 L1027.5 80.4 L1030.0 80.4 L1032.5 80.5 L1035.0 80.5 L1037.5 80.5 L1040.0 80.6 L1042.5 80.6 L1045.0 80.7 L1047.5 80.7 L1050.0 80.8 L1052.5 80.9 L1055.0 80.9 L1057.5 81.0 L1060.0 81.1 L1062.5 81.1 L1065.0 81.2 L1067.5 81.4 L1070.0 81.5 L1072.5 81.6 L1075.0 81.8 L1077.5 82.0 L1080.0 82.2 L1082.5 82.4 L1085.0 82.6 L1087.5 82.8 L1089.9 83.0 L1092.4 83.2 L1094.9 83.5 L1097.4 83.7 L1099.9 83.9 L1102.4 84.1 L1105.0 84.3 L1107.5 84.5 L1110.0 84.8 L1112.5 85.1 L1114.9 85.4 L1117.4 85.8 L1119.8 86.2 L1122.2 86.7 L1124.5 87.4 L1126.8 88.3 L1129.1 89.3 L1131.4 90.4 L1133.7 91.6 L1136.0 92.7 L1138.2 93.9 L1140.5 94.9 L1142.8 96.0 L1145.1 97.0 L1147.4 98.0 L1149.7 99.0 L1152.0 100.1 L1154.2 101.2 L1156.4 102.4 L1158.6 103.6 L1160.6 104.9 L1162.7 106.4 L1164.7 107.9 L1166.6 109.6 L1168.4 111.3 L1170.1 113.1 L1171.7 115.0 L1173.2 116.9 L1174.7 118.8 L1176.2 120.9 L1177.5 123.0 L1178.9 125.1 L1180.2 127.3 L1181.5 129.4 L1182.8 131.6 L1184.1 133.8 L1185.3 136.0 L1186.5 138.2 L1187.7 140.4 L1189.0 142.6 L1190.2 144.8 L1191.4 147.0 L1192.5 149.2 L1193.7 151.5 L1194.8 153.7 L1195.8 156.0 L1196.8 158.3 L1197.7 160.6 L1198.6 162.9 L1199.4 165.3 L1200.1 167.7 L1200.9 170.0 L1201.6 172.5 L1202.3 174.9 L1203.0 177.3 L1203.6 179.7 L1204.3 182.1 L1204.9 184.5 L1205.4 187.0 L1206.0 189.4 L1206.6 191.9 L1207.1 194.3 L1207.7 196.7 L1208.4 199.1 L1209.0 201.5 L1209.8 203.9 L1210.6 206.3 L1211.4 208.7 L1212.2 211.0 L1213.0 213.4 L1213.8 215.8 L1214.5 218.2 L1215.1 220.6 L1215.8 223.0 L1216.4 225.4 L1217.0 227.8 L1217.6 230.3 L1218.2 232.7 L1218.8 235.1 L1219.3 237.6 L1219.9 240.0 L1220.4 242.4 L1221.0 244.9 L1221.5 247.3 L1222.0 249.8 L1222.5 252.2 L1223.1 254.7 L1223.6 257.1 L1224.0 259.6 L1224.5 262.0 L1225.0 264.5 L1225.5 266.9 L1226.0 269.4 L1226.5 271.8 L1226.9 274.3 L1227.4 276.8 L1227.8 279.2 L1228.3 281.7 L1228.7 284.1 L1229.1 286.6 L1229.6 289.1 L1230.0 291.5 L1230.4 294.0 L1230.8 296.5 L1231.2 298.9 L1231.6 301.4 L1232.0 303.9 L1232.4 306.3 L1232.8 308.8 L1233.2 311.3 L1233.6 313.8 L1234.0 316.2 L1234.3 318.7 L1234.7 321.2 L1235.1 323.6 L1235.4 326.1 L1235.8 328.6 L1236.1 331.1 L1236.5 333.5 L1236.8 336.0 L1237.2 338.5 L1237.5 341.0 L1237.9 343.4 L1238.2 345.9 L1238.5 348.4 L1238.9 350.9 L1239.2 353.4 L1239.5 355.8 L1239.9 358.3 L1240.2 360.8 L1240.5 363.3 L1240.9 365.7 L1241.2 368.2 L1241.5 370.7 L1241.9 373.2 L1242.2 375.7 L1242.5 378.1 L1242.9 380.6 L1243.2 383.1 L1243.5 385.6 L1243.9 388.1 L1244.2 390.5 L1244.5 393.0 L1244.9 395.5 L1245.2 398.0 L1245.5 400.4 L1245.8 402.9 L1246.2 405.4 L1246.5 407.9 L1246.8 410.4 L1247.1 412.8 L1247.4 415.3 L1247.8 417.8 L1248.1 420.3 L1248.4 422.8 L1248.7 425.2 L1249.0 427.7 L1249.3 430.2 L1249.6 432.7 L1249.9 435.2 L1250.2 437.7 L1250.5 440.1 L1250.8 442.6 L1251.0 445.1 L1251.3 447.6 L1251.6 450.1 L1251.9 452.6 L1252.1 455.0 L1252.4 457.5 L1252.7 460.0 L1253.0 462.5 L1253.2 465.0 L1253.5 467.5 L1253.8 470.0 L1254.0 472.4 L1254.3 474.9 L1254.5 477.4 L1254.8 479.9 L1255.1 482.4 L1255.3 484.9 L1255.6 487.4 L1255.8 489.9 L1256.1 492.3 L1256.3 494.8 L1256.6 497.3 L1256.8 499.8 L1257.1 502.3 L1257.3 504.8 L1257.6 507.3 L1257.8 509.8 L1258.1 512.2 L1258.3 514.7 L1258.6 517.2 L1258.8 519.7 L1259.1 522.2 L1259.3 524.7 L1259.6 527.2 L1259.8 529.7 L1260.0 532.1 L1260.3 534.6 L1260.5 537.1 L1260.7 539.6 L1261.0 542.1 L1261.2 544.6 L1261.4 547.1 L1261.7 549.6 L1261.9 552.1 L1262.1 554.5 L1262.4 557.0 L1262.6 559.5 L1262.8 562.0 L1263.0 564.5 L1263.3 567.0 L1263.5 569.5 L1263.7 572.0 L1263.9 574.5 L1264.1 577.0 L1264.4 579.5 L1264.6 581.9 L1264.8 584.4 L1265.0 586.9 L1265.2 589.4 L1265.4 591.9 L1265.6 594.4 L1265.8 596.9 L1266.0 599.4 L1266.3 601.9 L1266.5 604.4 L1266.7 606.9 L1266.9 609.3 L1267.1 611.8 L1267.3 614.3 L1267.5 616.8 L1267.7 619.3 L1267.9 621.8 L1268.1 624.3 L1268.3 626.8 L1268.6 629.3 L1268.8 631.8 L1269.0 634.3 L1269.2 636.8 L1269.4 639.2 L1269.6 641.7 L1269.8 644.2 L1270.1 646.7 L1270.3 649.2 L1270.5 651.7 L1270.7 654.2 L1270.9 656.7 L1271.1 659.2 L1271.3 661.7 L1271.5 664.2 L1271.8 666.6 L1272.0 669.1 L1272.2 671.6 L1272.4 674.1 L1272.6 676.6 L1272.8 679.1 L1273.0 681.6 L1273.2 684.1 L1273.4 686.6 L1273.6 689.1 L1273.8 691.6 L1274.0 694.1 L1274.2 696.5 L1274.4 699.0 L1274.6 701.5 L1274.8 704.0 L1275.0 706.5 L1275.2 709.0 L1275.4 711.5 L1275.6 714.0 L1275.8 716.5 L1276.0 719.0 L1276.2 721.5 L1276.4 724.0 L1276.6 726.5 L1276.8 728.9 L1277.0 731.4 L1277.2 733.9 L1277.4 736.4 L1277.6 738.9 L1277.8 741.4 L1278.0 743.9 L1278.2 746.4 L1278.4 748.9 L1278.6 751.4 L1278.8 753.9 L1279.0 756.4 L1279.2 758.9 L1279.4 761.3 L1279.6 763.8 L1279.8 766.3 L1280.0 768.8 L1280.2 771.3 L1280.4 773.8 L1280.7 776.3 L1280.9 778.8 L1281.1 781.3 L1281.3 783.8 L1281.5 786.3 L1281.8 788.7 L1282.0 791.2 L1282.2 793.7 L1282.4 796.2 L1282.6 798.7 L1282.8 801.2 L1283.0 803.7 L1283.2 806.2 L1283.4 808.7 L1283.7 811.2 L1283.9 813.7 L1284.1 816.1 L1284.3 818.6 L1284.4 821.1 L1284.6 823.6 L1284.8 826.1 L1285.0 828.6 L1285.2 831.1 L1285.4 833.6 L1285.6 836.1 L1285.7 838.6 L1285.9 841.1 L1286.1 843.6 L1286.3 846.1 L1286.4 848.6 L1286.6 851.1 L1286.8 853.6 L1287.0 856.0 L1287.1 858.5 L1287.3 861.0 L1287.5 863.5 L1287.7 866.0 L1287.8 868.5 L1288.0 871.0 L1288.2 873.5 L1288.4 876.0 L1288.6 878.5 L1288.8 881.0 L1289.0 883.5 L1289.1 886.0 L1289.3 888.5 L1289.5 891.0 L1289.7 893.4 L1289.9 895.9 L1290.1 898.4 L1290.3 900.9 L1290.5 903.4 L1290.7 905.9 L1290.9 908.4 L1291.1 910.9 L1291.3 913.4 L1291.5 915.9 L1291.7 918.4 L1291.9 920.9 L1292.1 923.4 L1292.3 925.8 L1292.5 928.3 L1292.7 930.8 L1292.9 933.3 L1293.1 935.8 L1293.3 938.3 L1293.6 940.8 L1293.8 943.3 L1294.0 945.8 L1294.2 948.3 L1294.4 950.8 L1294.6 953.3 L1294.8 955.7 L1295.0 958.2 L1295.2 960.7 L1295.4 963.2 L1295.6 965.7 L1295.9 968.2 L1296.1 970.7 L1296.3 973.2 L1296.5 975.7 L1296.7 978.2 L1296.9 980.7 L1297.1 983.1 L1297.4 985.6 L1297.6 988.1 L1297.8 990.6 L1298.0 993.1 L1298.2 995.6 L1298.4 998.1 L1298.6 1000.6 L1298.9 1003.1 L1299.1 1005.6 L1299.3 1008.1 L1299.5 1010.5 L1299.7 1013.0 L1299.9 1015.5 L1300.1 1018.0 L1300.3 1020.5 L1300.5 1023.0 L1300.7 1025.5 L1300.9 1028.0 L1301.1 1030.5 L1301.3 1033.0 L1301.5 1035.5 L1301.7 1038.0 L1301.9 1040.5 L1302.1 1042.9 L1302.3 1045.4 L1302.5 1047.9 L1302.7 1050.4 L1302.9 1052.9 L1303.1 1055.4 L1303.3 1057.9 L1303.5 1060.4 L1303.7 1062.9 L1303.9 1065.4 L1304.1 1067.9 L1304.4 1070.4 L1304.6 1072.8 L1304.8 1075.3 L1305.0 1077.8 L1305.2 1080.3 L1305.5 1082.8 L1305.7 1085.3 L1305.9 1087.8 L1306.1 1090.3 L1306.3 1092.8 L1306.6 1095.3 L1306.8 1097.7 L1307.0 1100.2 L1307.3 1102.7 L1307.5 1105.2 L1307.7 1107.7 L1308.0 1110.2 L1308.2 1112.7 L1308.5 1115.2 L1308.7 1117.7 L1309.0 1120.1 L1309.2 1122.6 L1309.5 1125.1 L1309.7 1127.6 L1310.0 1130.1 L1310.3 1132.6 L1310.6 1135.1 L1310.8 1137.5 L1311.1 1140.0 L1311.5 1142.5 L1311.8 1145.0 L1312.1 1147.5 L1312.5 1149.9 L1312.8 1152.4 L1313.1 1154.9 L1313.5 1157.4 L1313.8 1159.8 L1314.2 1162.3 L1314.5 1164.8 L1314.8 1167.3 L1315.2 1169.8 L1315.5 1172.2 L1315.8 1174.7 L1316.1 1177.2 L1316.3 1179.7 L1316.6 1182.2 L1317.0 1184.7 L1317.3 1187.1 L1317.7 1189.6 L1318.1 1192.1 L1318.6 1194.5 L1319.2 1197.0 L1319.7 1199.4 L1320.1 1201.9 L1320.6 1204.3 L1321.1 1206.8 L1321.6 1209.2 L1322.1 1211.7 L1322.7 1214.1 L1323.3 1216.5 L1324.1 1218.9 L1325.0 1221.2 L1326.1 1223.5 L1327.4 1225.6 L1328.9 1227.7 L1330.6 1229.5 L1332.6 1230.9 L1334.9 1232.0 L1337.2 1232.9 L1339.6 1233.7 L1342.0 1234.3 L1344.5 1234.8 L1346.9 1235.3 L1349.4 1235.7 L1351.9 1236.2 L1354.3 1236.5 L1356.8 1236.9 L1359.3 1237.3 L1361.8 1237.6 L1364.2 1237.9 L1366.7 1238.3 L1369.2 1238.6 L1371.7 1238.9 L1374.2 1239.2 L1376.6 1239.5 L1379.1 1239.8 L1381.6 1240.1 L1384.1 1240.4 L1386.6 1240.7 L1389.1 1241.0 L1391.5 1241.3 L1394.0 1241.6 L1396.5 1241.9 L1399.0 1242.2 L1401.5 1242.5 L1404.0 1242.8 L1406.4 1243.1 L1408.9 1243.4 L1411.4 1243.8 L1413.9 1244.1 L1416.3 1244.5 L1418.8 1244.9 L1421.3 1245.3 L1423.7 1245.7 L1426.2 1246.3 L1428.6 1246.8 L1431.0 1247.4 L1433.5 1248.0 L1435.9 1248.6 L1438.3 1249.2 L1440.8 1249.7 L1443.2 1250.2 L1445.7 1250.7 L1448.1 1251.2 L1450.6 1251.7 L1453.0 1252.1 L1455.5 1252.6 L1457.9 1253.1 L1460.4 1253.6 L1462.8 1254.1 L1465.3 1254.6 L1467.7 1255.2 L1470.2 1255.8 L1472.6 1256.3 L1475.1 1256.8 L1477.5 1257.2 L1480.0 1257.4 L1482.5 1257.7 L1485.0 1258.0 L1487.5 1258.2 L1490.0 1258.4 L1492.5 1258.5 L1495.0 1258.5 L1497.5 1258.5 L1500.0 1258.5 L1502.5 1258.5 L1505.0 1258.5 L1507.5 1258.5 L1510.0 1258.4 L1512.5 1258.4 L1515.0 1258.4 L1517.5 1258.4 L1520.0 1258.4 L1522.5 1258.4 L1525.0 1258.4 L1527.5 1258.3 L1530.0 1258.3 L1532.5 1258.3 L1535.0 1258.3 L1537.5 1258.3 L1540.0 1258.3 L1542.5 1258.3 L1545.0 1258.3 L1547.5 1258.3 L1550.0 1258.3 L1552.5 1258.3 L1555.0 1258.3 L1557.5 1258.3 L1560.0 1258.3 L1562.5 1258.3 L1565.0 1258.3 L1567.5 1258.3 L1570.0 1258.3 L1572.5 1258.3 L1575.0 1258.3 L1577.5 1258.3 L1580.0 1258.3 L1582.5 1258.3 L1585.0 1258.3 L1587.5 1258.3 L1590.0 1258.3 L1592.5 1258.3 L1595.0 1258.3 L1597.5 1258.3 L1600.0 1258.3 L1602.5 1258.3 L1605.0 1258.3 L1607.5 1258.3 L1610.0 1258.3 L1612.5 1258.3 L1615.0 1258.3 L1617.5 1258.3 L1620.0 1258.3 L1622.5 1258.3 L1625.0 1258.3 L1627.5 1258.3 L1630.0 1258.2 L1632.5 1258.2 L1635.0 1258.2 L1637.5 1258.2 L1640.0 1258.2 L1642.5 1258.2 L1645.0 1258.2 L1647.5 1258.2 L1650.0 1258.2 L1652.5 1258.2 L1655.0 1258.2 L1657.5 1258.2 L1660.0 1258.2 L1662.5 1258.2 L1665.0 1258.2 L1667.5 1258.2 L1670.0 1258.2 L1672.5 1258.2 L1675.0 1258.2 L1677.5 1258.2 L1680.0 1258.2 L1682.5 1258.2 L1685.0 1258.2 L1687.5 1258.2 L1690.0 1258.2 L1692.5 1258.2 L1695.0 1258.2 L1697.5 1258.2 L1700.0 1258.2 L1702.5 1258.2 L1705.0 1258.2 L1707.5 1258.2 L1710.0 1258.2 L1712.5 1258.2 L1715.0 1258.2 L1717.5 1258.2 L1720.0 1258.2 L1722.5 1258.2 L1725.0 1258.2 L1727.5 1258.2 L1730.0 1258.2 L1732.5 1258.2 L1735.0 1258.2 L1737.5 1258.2 L1740.0 1258.2 L1742.5 1258.2 L1745.0 1258.2 L1747.5 1258.2 L1750.0 1258.2 L1752.5 1258.2 L1755.0 1258.2 L1757.5 1258.2 L1760.0 1258.2 L1762.5 1258.2 L1765.0 1258.2 L1767.5 1258.2 L1770.0 1258.2 L1772.5 1258.2 L1775.0 1258.2 L1777.5 1258.2 L1780.0 1258.2 L1782.5 1258.2 L1785.0 1258.2 L1787.5 1258.2 L1790.0 1258.2 L1792.5 1258.2 L1795.0 1258.2 L1797.5 1258.2 L1800.0 1258.2 L1802.5 1258.2 L1805.0 1258.2 L1807.5 1258.2 L1810.0 1258.2 L1812.5 1258.2 L1815.0 1258.2 L1817.5 1258.2 L1820.0 1258.2 L1822.5 1258.2 L1825.0 1258.2 L1827.5 1258.2 L1830.0 1258.2 L1832.5 1258.2 L1835.0 1258.2 L1837.5 1258.2 L1840.0 1258.2 L1842.5 1258.2 L1845.0 1258.2 L1847.5 1258.2 L1850.0 1258.2 L1852.5 1258.2 L1855.0 1258.2 L1857.5 1258.2 L1860.0 1258.2 L1862.5 1258.2 L1865.0 1258.2 L1867.5 1258.2 L1870.0 1258.2 L1872.5 1258.2 L1875.0 1258.2 L1877.5 1258.2 L1880.0 1258.2 L1882.5 1258.2 L1885.0 1258.2 L1887.5 1258.2 L1890.0 1258.2 L1892.5 1258.2 L1895.0 1258.2" stroke="#F99B35"/>
<path d="M380.0 74.8 L382.5 74.8 L385.0 74.8 L387.5 74.9 L390.0 74.9 L392.5 74.9 L395.0 74.9 L397.5 75.0 L400.0 75.0 L402.5 75.0 L405.0 75.0 L407.5 75.0 L410.0 75.1 L412.5 75.1 L415.0 75.1 L417.5 75.1 L420.0 75.2 L422.5 75.2 L425.0 75.2 L427.5 75.2 L430.0 75.2 L432.5 75.3 L435.0 75.3 L437.5 75.3 L440.0 75.3 L442.5 75.4 L445.0 75.4 L447.5 75.4 L450.0 75.4 L452.5 75.4 L455.0 75.5 L457.5 75.5 L460.0 75.5 L462.5 75.5 L465.0 75.6 L467.5 75.6 L470.0 75.6 L472.5 75.6 L475.0 75.6 L477.5 75.7 L480.0 75.7 L482.5 75.7 L485.1 75.7 L487.6 75.8 L490.1 75.8 L492.6 75.8 L495.1 75.8 L497.6 75.8 L500.1 75.9 L502.6 75.9 L505.1 75.9 L507.6 75.9 L510.1 75.9 L512.6 76.0 L515.1 76.0 L517.6 76.0 L520.1 76.0 L522.6 76.1 L525.1 76.1 L527.6 76.1 L530.1 76.1 L532.6 76.1 L535.1 76.2 L537.6 76.2 L540.1 76.2 L542.6 76.2 L545.1 76.2 L547.6 76.3 L550.1 76.3 L552.6 76.3 L555.1 76.3 L557.6 76.4 L560.1 76.4 L562.6 76.4 L565.1 76.4 L567.6 76.4 L570.1 76.5 L572.6 76.5 L575.1 76.5 L577.6 76.5 L580.1 76.5 L582.6 76.6 L585.1 76.6 L587.6 76.6 L590.1 76.6 L592.6 76.6 L595.1 76.7 L597.6 76.7 L600.1 76.7 L602.6 76.7 L605.1 76.8 L607.6 76.8 L610.1 76.8 L612.6 76.8 L615.1 76.8 L617.6 76.9 L620.1 76.9 L622.6 76.9 L625.1 76.9 L627.6 76.9 L630.1 77.0 L632.6 77.0 L635.1 77.0 L637.6 77.0 L640.1 77.0 L642.6 77.1 L645.1 77.1 L647.6 77.1 L650.1 77.1 L652.6 77.1 L655.1 77.2 L657.6 77.2 L660.1 77.2 L662.6 77.2 L665.1 77.2 L667.6 77.3 L670.1 77.3 L672.6 77.3 L675.1 77.3 L677.6 77.3 L680.1 77.4 L682.6 77.4 L685.1 77.4 L687.7 77.4 L690.2 77.4 L692.7 77.5 L695.2 77.5 L697.7 77.5 L700.2 77.5 L702.7 77.5 L705.2 77.6 L707.7 77.6 L710.2 77.6 L712.7 77.6 L715.2 77.6 L717.7 77.7 L720.2 77.7 L722.7 77.7 L725.2 77.7 L727.7 77.7 L730.2 77.8 L732.7 77.8 L735.2 77.8 L737.7 77.8 L740.2 77.8 L742.7 77.9 L745.2 77.9 L747.7 77.9 L750.2 77.9 L752.7 77.9 L755.2 78.0 L757.7 78.0 L760.2 78.0 L762.7 78.0 L765.2 78.1 L767.7 78.1 L770.2 78.1 L772.7 78.1 L775.2 78.1 L777.7 78.2 L780.2 78.2 L782.7 78.2 L785.2 78.2 L787.7 78.3 L790.2 78.3 L792.7 78.3 L795.2 78.3 L797.7 78.4 L800.2 78.4 L802.7 78.4 L805.2 78.4 L807.7 78.5 L810.2 78.5 L812.7 78.5 L815.2 78.5 L817.7 78.6 L820.2 78.6 L822.7 78.6 L825.2 78.6 L827.7 78.7 L830.2 78.7 L832.7 78.7 L835.2 78.7 L837.7 78.8 L840.2 78.8 L842.7 78.8 L845.2 78.8 L847.7 78.9 L850.2 78.9 L852.7 78.9 L855.2 78.9 L857.7 79.0 L860.2 79.0 L862.7 79.0 L865.2 79.0 L867.7 79.1 L870.2 79.1 L872.7 79.1 L875.2 79.1 L877.7 79.2 L880.2 79.2 L882.7 79.2 L885.2 79.2 L887.7 79.3 L890.2 79.3 L892.7 79.3 L895.3 79.3 L897.8 79.4 L900.3 79.4 L902.8 79.4 L905.3 79.4 L907.8 79.5 L910.3 79.5 L912.8 79.5 L915.3 79.5 L917.8 79.6 L920.3 79.6 L922.8 79.6 L925.3 79.6 L927.8 79.7 L930.3 79.7 L932.8 79.7 L935.3 79.7 L937.8 79.8 L940.3 79.8 L942.8 79.8 L945.3 79.8 L947.8 79.9 L950.3 79.9 L952.8 79.9 L955.3 79.9 L957.8 80.0 L960.3 80.0 L962.8 80.0 L965.3 80.0 L967.8 80.0 L970.3 80.1 L972.8 80.1 L975.3 80.1 L977.8 80.1 L980.3 80.1 L982.8 80.2 L985.3 80.2 L987.8 80.2 L990.3 80.2 L992.8 80.2 L995.3 80.3 L997.8 80.3 L1000.3 80.3 L1002.8 80.3 L1005.3 80.3 L1007.8 80.3 L1010.3 80.4 L1012.8 80.4 L1015.3 80.4 L1017.8 80.4 L1020.3 80.4 L1022.8 80.4 L1025.3 80.5 L1027.8 80.5 L1030.3 80.5 L1032.8 80.5 L1035.3 80.6 L1037.8 80.6 L1040.3 80.7 L1042.8 80.8 L1045.3 80.9 L1047.8 80.9 L1050.3 81.0 L1052.8 81.1 L1055.3 81.2 L1057.8 81.3 L1060.3 81.4 L1062.8 81.4 L1065.3 81.5 L1067.8 81.6 L1070.3 81.6 L1072.8 81.7 L1075.3 81.8 L1077.8 81.8 L1080.3 81.9 L1082.8 82.0 L1085.3 82.0 L1087.8 82.1 L1090.3 82.2 L1092.8 82.4 L1095.3 82.5 L1097.8 82.7 L1100.3 82.9 L1102.8 83.1 L1105.3 83.3 L1107.8 83.4 L1110.3 83.6 L1112.8 83.8 L1115.3 84.0 L1117.8 84.2 L1120.2 84.5 L1122.7 84.8 L1125.2 85.2 L1127.7 85.6 L1130.2 86.0 L1132.6 86.5 L1135.1 87.0 L1137.5 87.5 L1139.9 88.1 L1142.3 88.7 L1144.8 89.4 L1147.1 90.2 L1149.5 91.0 L1151.9 91.9 L1154.2 92.9 L1156.5 93.8 L1158.8 94.9 L1161.0 96.0 L1163.2 97.2 L1165.3 98.6 L1167.4 100.0 L1169.4 101.4 L1171.3 103.0 L1173.3 104.6 L1175.1 106.3 L1176.9 108.1 L1178.6 109.9 L1180.2 111.8 L1181.9 113.7 L1183.4 115.7 L1184.9 117.7 L1186.4 119.7 L1187.8 121.8 L1189.2 123.9 L1190.6 126.0 L1191.9 128.1 L1193.2 130.3 L1194.4 132.5 L1195.5 134.7 L1196.5 136.9 L1197.5 139.2 L1198.3 141.6 L1199.1 144.0 L1199.9 146.3 L1200.7 148.7 L1201.4 151.1 L1202.2 153.5 L1203.1 155.9 L1204.0 158.2 L1204.8 160.6 L1205.7 162.9 L1206.6 165.3 L1207.4 167.6 L1208.2 170.0 L1208.9 172.4 L1209.6 174.8 L1210.3 177.2 L1210.9 179.6 L1211.5 182.0 L1212.1 184.5 L1212.6 186.9 L1213.2 189.3 L1213.7 191.8 L1214.3 194.2 L1214.8 196.7 L1215.4 199.1 L1216.0 201.6 L1216.5 204.0 L1217.1 206.4 L1217.6 208.9 L1218.1 211.3 L1218.7 213.8 L1219.2 216.2 L1219.6 218.7 L1220.1 221.1 L1220.6 223.6 L1221.0 226.0 L1221.4 228.5 L1221.9 231.0 L1222.3 233.4 L1222.7 235.9 L1223.1 238.4 L1223.5 240.8 L1223.9 243.3 L1224.3 245.8 L1224.7 248.3 L1225.1 250.7 L1225.5 253.2 L1225.8 255.7 L1226.2 258.1 L1226.6 260.6 L1227.0 263.1 L1227.3 265.6 L1227.7 268.0 L1228.1 270.5 L1228.4 273.0 L1228.8 275.5 L1229.2 277.9 L1229.5 280.4 L1229.9 282.9 L1230.3 285.4 L1230.6 287.8 L1231.0 290.3 L1231.3 292.8 L1231.6 295.3 L1232.0 297.8 L1232.3 300.2 L1232.7 302.7 L1233.0 305.2 L1233.3 307.7 L1233.6 310.1 L1233.9 312.6 L1234.2 315.1 L1234.5 317.6 L1234.9 320.1 L1235.2 322.6 L1235.5 325.0 L1235.7 327.5 L1236.0 330.0 L1236.3 332.5 L1236.6 335.0 L1236.9 337.5 L1237.2 340.0 L1237.5 342.4 L1237.7 344.9 L1238.0 347.4 L1238.3 349.9 L1238.6 352.4 L1238.8 354.9 L1239.1 357.4 L1239.4 359.8 L1239.6 362.3 L1239.9 364.8 L1240.2 367.3 L1240.4 369.8 L1240.7 372.3 L1240.9 374.8 L1241.2 377.3 L1241.4 379.7 L1241.7 382.2 L1241.9 384.7 L1242.2 387.2 L1242.4 389.7 L1242.7 392.2 L1242.9 394.7 L1243.1 397.2 L1243.4 399.7 L1243.6 402.2 L1243.8 404.6 L1244.1 407.1 L1244.3 409.6 L1244.5 412.1 L1244.7 414.6 L1245.0 417.1 L1245.2 419.6 L1245.4 422.1 L1245.7 424.6 L1245.9 427.1 L1246.1 429.6 L1246.3 432.0 L1246.6 434.5 L1246.8 437.0 L1247.0 439.5 L1247.3 442.0 L1247.5 444.5 L1247.7 447.0 L1248.0 449.5 L1248.2 452.0 L1248.4 454.5 L1248.7 457.0 L1248.9 459.4 L1249.1 461.9 L1249.3 464.4 L1249.6 466.9 L1249.8 469.4 L1250.0 471.9 L1250.3 474.4 L1250.5 476.9 L1250.7 479.4 L1250.9 481.9 L1251.2 484.4 L1251.4 486.8 L1251.6 489.3 L1251.8 491.8 L1252.1 494.3 L1252.3 496.8 L1252.5 499.3 L1252.7 501.8 L1252.9 504.3 L1253.2 506.8 L1253.4 509.3 L1253.6 511.8 L1253.8 514.3 L1254.0 516.7 L1254.2 519.2 L1254.5 521.7 L1254.7 524.2 L1254.9 526.7 L1255.1 529.2 L1255.3 531.7 L1255.5 534.2 L1255.7 536.7 L1256.0 539.2 L1256.2 541.7 L1256.4 544.2 L1256.6 546.6 L1256.8 549.1 L1257.0 551.6 L1257.2 554.1 L1257.4 556.6 L1257.6 559.1 L1257.8 561.6 L1258.0 564.1 L1258.2 566.6 L1258.4 569.1 L1258.6 571.6 L1258.8 574.1 L1259.0 576.6 L1259.2 579.1 L1259.4 581.6 L1259.5 584.1 L1259.7 586.5 L1259.9 589.0 L1260.1 591.5 L1260.3 594.0 L1260.5 596.5 L1260.6 599.0 L1260.8 601.5 L1261.0 604.0 L1261.2 606.5 L1261.4 609.0 L1261.6 611.5 L1261.8 614.0 L1261.9 616.5 L1262.1 619.0 L1262.3 621.5 L1262.5 624.0 L1262.7 626.5 L1262.9 628.9 L1263.1 631.4 L1263.3 633.9 L1263.5 636.4 L1263.8 638.9 L1264.0 641.4 L1264.2 643.9 L1264.4 646.4 L1264.6 648.9 L1264.8 651.4 L1265.1 653.9 L1265.3 656.4 L1265.5 658.9 L1265.7 661.3 L1266.0 663.8 L1266.2 666.3 L1266.4 668.8 L1266.6 671.3 L1266.8 673.8 L1267.0 676.3 L1267.2 678.8 L1267.4 681.3 L1267.6 683.8 L1267.8 686.3 L1268.0 688.8 L1268.2 691.3 L1268.4 693.8 L1268.6 696.2 L1268.8 698.7 L1268.9 701.2 L1269.1 703.7 L1269.3 706.2 L1269.4 708.7 L1269.6 711.2 L1269.8 713.7 L1269.9 716.2 L1270.1 718.7 L1270.2 721.2 L1270.4 723.7 L1270.6 726.2 L1270.7 728.7 L1270.9 731.2 L1271.0 733.7 L1271.2 736.2 L1271.3 738.7 L1271.5 741.2 L1271.7 743.7 L1271.8 746.2 L1272.0 748.7 L1272.2 751.2 L1272.3 753.7 L1272.5 756.1 L1272.7 758.6 L1272.9 761.1 L1273.1 763.6 L1273.3 766.1 L1273.4 768.6 L1273.6 771.1 L1273.8 773.6 L1274.0 776.1 L1274.2 778.6 L1274.4 781.1 L1274.6 783.6 L1274.8 786.1 L1275.0 788.6 L1275.2 791.1 L1275.4 793.6 L1275.5 796.1 L1275.7 798.5 L1275.9 801.0 L1276.1 803.5 L1276.3 806.0 L1276.5 808.5 L1276.7 811.0 L1276.9 813.5 L1277.1 816.0 L1277.2 818.5 L1277.4 821.0 L1277.6 823.5 L1277.8 826.0 L1277.9 828.5 L1278.1 831.0 L1278.3 833.5 L1278.5 836.0 L1278.6 838.5 L1278.8 841.0 L1279.0 843.5 L1279.1 846.0 L1279.3 848.4 L1279.5 850.9 L1279.7 853.4 L1279.8 855.9 L1280.0 858.4 L1280.2 860.9 L1280.3 863.4 L1280.5 865.9 L1280.7 868.4 L1280.9 870.9 L1281.0 873.4 L1281.2 875.9 L1281.4 878.4 L1281.6 880.9 L1281.7 883.4 L1281.9 885.9 L1282.1 888.4 L1282.3 890.9 L1282.5 893.4 L1282.7 895.9 L1282.9 898.3 L1283.0 900.8 L1283.2 903.3 L1283.4 905.8 L1283.6 908.3 L1283.8 910.8 L1284.0 913.3 L1284.2 915.8 L1284.4 918.3 L1284.6 920.8 L1284.8 923.3 L1285.0 925.8 L1285.1 928.3 L1285.3 930.8 L1285.5 933.3 L1285.7 935.8 L1285.9 938.3 L1286.1 940.7 L1286.3 943.2 L1286.5 945.7 L1286.6 948.2 L1286.8 950.7 L1287.0 953.2 L1287.2 955.7 L1287.4 958.2 L1287.5 960.7 L1287.7 963.2 L1287.9 965.7 L1288.1 968.2 L1288.2 970.7 L1288.4 973.2 L1288.6 975.7 L1288.8 978.2 L1288.9 980.7 L1289.1 983.2 L1289.3 985.7 L1289.5 988.2 L1289.6 990.6 L1289.8 993.1 L1290.0 995.6 L1290.2 998.1 L1290.3 1000.6 L1290.5 1003.1 L1290.7 1005.6 L1290.9 1008.1 L1291.1 1010.6 L1291.2 1013.1 L1291.4 1015.6 L1291.6 1018.1 L1291.8 1020.6 L1292.0 1023.1 L1292.2 1025.6 L1292.3 1028.1 L1292.5 1030.6 L1292.7 1033.1 L1292.9 1035.6 L1293.1 1038.0 L1293.3 1040.5 L1293.5 1043.0 L1293.6 1045.5 L1293.8 1048.0 L1294.0 1050.5 L1294.2 1053.0 L1294.4 1055.5 L1294.6 1058.0 L1294.8 1060.5 L1295.0 1063.0 L1295.2 1065.5 L1295.4 1068.0 L1295.6 1070.5 L1295.8 1073.0 L1296.0 1075.5 L1296.2 1077.9 L1296.4 1080.4 L1296.6 1082.9 L1296.8 1085.4 L1297.0 1087.9 L1297.2 1090.4 L1297.4 1092.9 L1297.6 1095.4 L1297.8 1097.9 L1298.0 1100.4 L1298.2 1102.9 L1298.4 1105.4 L1298.6 1107.9 L1298.8 1110.4 L1299.1 1112.9 L1299.3 1115.3 L1299.5 1117.8 L1299.7 1120.3 L1300.0 1122.8 L1300.2 1125.3 L1300.4 1127.8 L1300.7 1130.3 L1300.9 1132.8 L1301.2 1135.3 L1301.4 1137.7 L1301.7 1140.2 L1302.0 1142.7 L1302.3 1145.2 L1302.6 1147.7 L1302.9 1150.2 L1303.2 1152.6 L1303.5 1155.1 L1303.9 1157.6 L1304.2 1160.1 L1304.5 1162.6 L1304.9 1165.1 L1305.2 1167.5 L1305.5 1170.0 L1305.8 1172.5 L1306.1 1175.0 L1306.4 1177.5 L1306.8 1179.9 L1307.1 1182.4 L1307.4 1184.9 L1307.8 1187.4 L1308.2 1189.8 L1308.7 1192.3 L1309.2 1194.7 L1309.8 1197.2 L1310.4 1199.6 L1311.0 1202.0 L1311.7 1204.4 L1312.4 1206.8 L1313.2 1209.3 L1314.0 1211.6 L1315.4 1213.5 L1317.5 1215.1 L1319.7 1216.4 L1322.0 1217.4 L1324.3 1218.1 L1326.8 1218.7 L1329.3 1219.0 L1331.8 1219.3 L1334.3 1219.5 L1336.7 1219.7 L1339.2 1219.9 L1341.7 1220.1 L1344.2 1220.3 L1346.7 1220.5 L1349.2 1220.7 L1351.7 1220.9 L1354.2 1221.1 L1356.7 1221.4 L1359.2 1221.6 L1361.7 1221.9 L1364.2 1222.2 L1366.6 1222.4 L1369.1 1222.6 L1371.6 1222.9 L1374.1 1223.1 L1376.6 1223.3 L1379.1 1223.6 L1381.6 1223.8 L1384.1 1224.0 L1386.6 1224.2 L1389.1 1224.4 L1391.6 1224.6 L1394.1 1224.8 L1396.5 1225.0 L1399.0 1225.2 L1401.5 1225.4 L1404.0 1225.6 L1406.5 1225.8 L1409.0 1226.0 L1411.5 1226.1 L1414.0 1226.3 L1416.5 1226.5 L1419.0 1226.6 L1421.5 1226.8 L1424.0 1227.0 L1426.5 1227.1 L1429.0 1227.3 L1431.5 1227.5 L1434.0 1227.6 L1436.5 1227.8 L1439.0 1227.9 L1441.5 1228.1 L1444.0 1228.3 L1446.5 1228.4 L1448.9 1228.6 L1451.4 1228.8 L1453.9 1228.9 L1456.4 1229.1 L1458.9 1229.3 L1461.4 1229.5 L1463.9 1229.7 L1466.4 1229.9 L1468.9 1230.1 L1471.4 1230.2 L1473.9 1230.4 L1476.4 1230.6 L1478.9 1230.8 L1481.4 1231.0 L1483.9 1231.2 L1486.4 1231.4 L1488.9 1231.6 L1491.4 1231.8 L1493.8 1232.0 L1496.3 1232.2 L1498.8 1232.4 L1501.3 1232.6 L1503.8 1232.8 L1506.3 1233.1 L1508.8 1233.3 L1511.3 1233.5 L1513.8 1233.7 L1516.3 1233.9 L1518.8 1234.1 L1521.3 1234.4 L1523.8 1234.6 L1526.2 1234.8 L1528.7 1235.0 L1531.2 1235.3 L1533.7 1235.5 L1536.2 1235.7 L1538.7 1236.0 L1541.2 1236.2 L1543.7 1236.5 L1546.2 1236.7 L1548.6 1237.0 L1551.1 1237.2 L1553.6 1237.5 L1556.1 1237.7 L1558.6 1238.0 L1561.1 1238.2 L1563.6 1238.5 L1566.1 1238.8 L1568.6 1239.0 L1571.0 1239.3 L1573.5 1239.6 L1576.0 1239.9 L1578.5 1240.2 L1581.0 1240.4 L1583.5 1240.7 L1586.0 1241.0 L1588.4 1241.3 L1590.9 1241.6 L1593.4 1241.9 L1595.9 1242.2 L1598.4 1242.5 L1600.8 1242.9 L1603.3 1243.2 L1605.8 1243.5 L1608.3 1243.9 L1610.8 1244.2 L1613.2 1244.6 L1615.7 1245.0 L1618.2 1245.3 L1620.6 1245.7 L1623.1 1246.1 L1625.6 1246.5 L1628.1 1246.9 L1630.5 1247.3 L1633.0 1247.7 L1635.5 1248.1 L1637.9 1248.5 L1640.4 1248.9 L1642.9 1249.3 L1645.4 1249.7 L1647.8 1250.0 L1650.3 1250.4 L1652.8 1250.8 L1655.3 1251.1 L1657.7 1251.4 L1660.2 1251.7 L1662.7 1252.0 L1665.2 1252.3 L1667.7 1252.6 L1670.2 1252.9 L1672.6 1253.2 L1675.1 1253.5 L1677.6 1253.8 L1680.1 1254.1 L1682.6 1254.4 L1685.1 1254.7 L1687.6 1254.9 L1690.0 1255.2 L1692.5 1255.5 L1695.0 1255.7 L1697.5 1256.0 L1700.0 1256.2 L1702.5 1256.5 L1705.0 1256.7 L1707.5 1256.9 L1710.0 1257.1 L1712.5 1257.3 L1715.0 1257.5 L1717.5 1257.6 L1720.0 1257.8 L1722.4 1257.9 L1724.9 1258.1 L1727.4 1258.2 L1729.9 1258.3 L1732.4 1258.4 L1734.9 1258.6 L1737.4 1258.7 L1739.9 1258.8 L1742.4 1258.9 L1744.9 1259.0 L1747.4 1259.1 L1749.9 1259.2 L1752.4 1259.3 L1754.9 1259.4 L1757.4 1259.5 L1759.9 1259.6 L1762.4 1259.6 L1764.9 1259.7 L1767.4 1259.8 L1769.9 1259.8 L1772.4 1259.8 L1774.9 1259.9 L1777.4 1259.9 L1779.9 1259.9 L1782.4 1259.9 L1784.9 1259.9 L1787.4 1259.9 L1789.9 1259.9 L1792.4 1259.9 L1794.9 1259.9 L1797.4 1259.9 L1799.9 1259.9 L1802.4 1259.9 L1804.9 1259.9 L1807.4 1259.9 L1809.9 1259.9 L1812.4 1260.0 L1814.9 1260.0 L1817.5 1260.0 L1820.0 1260.0 L1822.5 1260.0 L1825.0 1260.0 L1827.5 1260.0 L1830.0 1260.0 L1832.5 1260.0 L1835.0 1260.0 L1837.5 1260.0 L1840.0 1260.0 L1842.5 1260.0 L1845.0 1260.0 L1847.5 1260.0 L1850.0 1260.0 L1852.5 1260.0 L1855.0 1260.0 L1857.5 1260.0 L1860.0 1260.0 L1862.5 1260.0 L1865.0 1260.0 L1867.5 1260.0 L1870.0 1260.0 L1872.5 1260.0 L1875.0 1260.0 L1877.5 1260.0 L1880.0 1260.0 L1882.5 1260.0 L1885.0 1260.0 L1887.5 1260.0 L1890.0 1260.0 L1892.5 1260.0 L1895.0 1260.0" stroke="#F5D69C"/>
</g>
<g id="legend" font-size="78">
<rect x="347" y="900" width="176" height="7" fill="#990000" shape-rendering="crispEdges"/>
<text x="540.5" y="930">PLA</text>
<rect x="347" y="996" width="176" height="7" fill="#FF4200" shape-rendering="crispEdges"/>
<text x="540.5" y="1026">PLA/Rutin</text>
<rect x="347" y="1092" width="176" height="8" fill="#F99B35" shape-rendering="crispEdges"/>
<text x="540.5" y="1122">PLA/Hesperidin</text>
<rect x="347" y="1189" width="176" height="7" fill="#F5D69C" shape-rendering="crispEdges"/>
<text x="540.5" y="1217.6">PLA/Chimassorb 944</text>
</g>
</svg></body></html>
